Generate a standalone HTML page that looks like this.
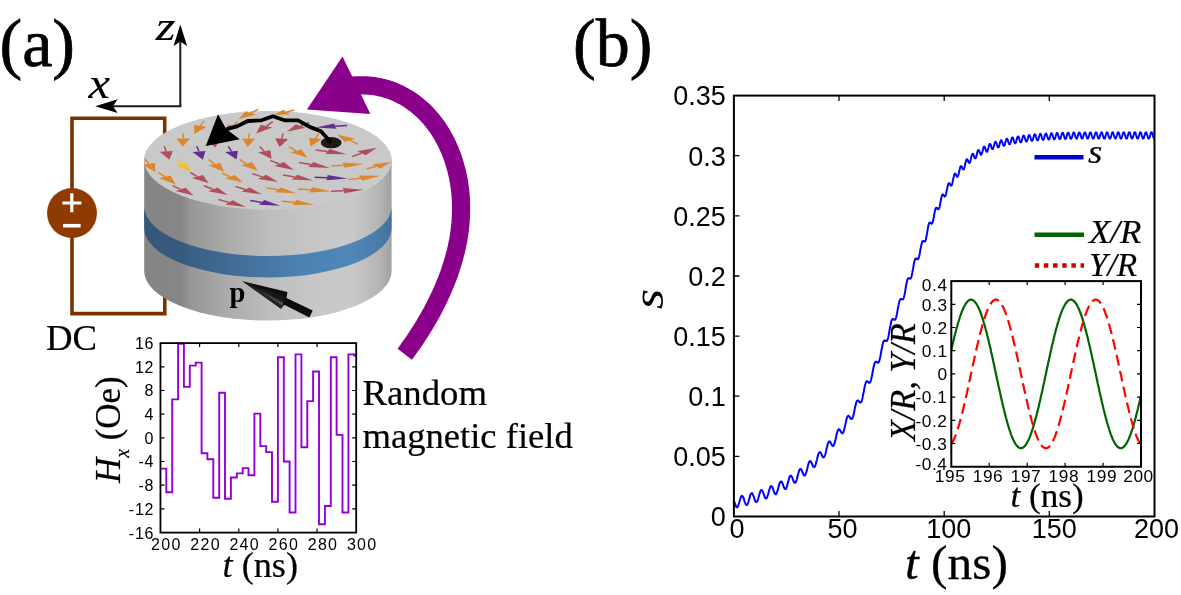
<!DOCTYPE html>
<html><head><meta charset="utf-8"><title>Figure</title>
<style>
html,body{margin:0;padding:0;background:#fff;}
body{width:1181px;height:595px;overflow:hidden;font-family:"Liberation Sans",sans-serif;}
svg{display:block;will-change:transform;}
text{white-space:pre;}
</style></head><body>
<svg width="1181" height="595" viewBox="0 0 1181 595">
<defs>
<linearGradient id="gside" x1="144" x2="392" y1="0" y2="0" gradientUnits="userSpaceOnUse">
<stop offset="0" stop-color="#858585"/>
<stop offset="0.15" stop-color="#868686"/>
<stop offset="0.19" stop-color="#979797"/>
<stop offset="0.35" stop-color="#adadad"/>
<stop offset="0.51" stop-color="#bdbdbd"/>
<stop offset="0.67" stop-color="#c6c6c6"/>
<stop offset="0.84" stop-color="#c9c9c9"/>
<stop offset="0.95" stop-color="#b4b4b4"/>
<stop offset="1" stop-color="#a0a0a0"/>
</linearGradient>
<linearGradient id="gband" x1="144" x2="392" y1="0" y2="0" gradientUnits="userSpaceOnUse">
<stop offset="0" stop-color="#34577a"/>
<stop offset="0.15" stop-color="#36597d"/>
<stop offset="0.19" stop-color="#3a6086"/>
<stop offset="0.35" stop-color="#406b94"/>
<stop offset="0.51" stop-color="#4778a6"/>
<stop offset="0.67" stop-color="#4d83b4"/>
<stop offset="0.84" stop-color="#4f86b8"/>
<stop offset="0.95" stop-color="#4a7baa"/>
<stop offset="1" stop-color="#446f99"/>
</linearGradient>
<linearGradient id="gcone" x1="0" x2="0" y1="-9" y2="9" gradientUnits="userSpaceOnUse">
<stop offset="0" stop-color="#0a0a0a"/>
<stop offset="0.55" stop-color="#1c1c1c"/>
<stop offset="0.8" stop-color="#3a3a3a"/>
<stop offset="1" stop-color="#101010"/>
</linearGradient>
</defs>
<rect width="1181" height="595" fill="#ffffff"/>
<text transform="translate(-0.5,66) scale(1.0,1)" font-family="Liberation Serif, serif" font-size="68" stroke="#000" stroke-width="0.75" >(a)</text>
<text transform="translate(573,66) scale(1.0,1)" font-family="Liberation Serif, serif" font-size="68" stroke="#000" stroke-width="0.75" >(b)</text>
<path d="M180.3,106.2 V40" stroke="#231815" stroke-width="2" fill="none"/>
<path d="M181.3,106.2 H112" stroke="#231815" stroke-width="2" fill="none"/>
<path d="M180.3,24.5 L187.1,46 L180.3,41.5 L173.6,46 Z" fill="#000"/>
<path d="M95.2,106.2 L117.6,99.3 L113,106.2 L117.6,113 Z" fill="#000"/>
<text transform="translate(155.8,40) scale(1.18,1)" font-family="Liberation Serif, serif" font-size="43" stroke="#000" stroke-width="0.09" font-style="italic">z</text>
<text transform="translate(88.6,97.5) scale(1.1,1)" font-family="Liberation Serif, serif" font-size="44" stroke="#000" stroke-width="0.09" font-style="italic">x</text>
<path d="M164.7,150 V118.2 H72 V313.6 H164.8 V290" stroke="#7a3200" stroke-width="3.6" fill="none" stroke-linejoin="miter"/>
<circle cx="72" cy="213" r="25" fill="#8f3a00"/>
<path d="M62.4,203 H81.4 M71.8,193.2 V212.3" stroke="#fff" stroke-width="3.2" fill="none"/>
<path d="M63,225.7 H80.6" stroke="#fff" stroke-width="3.6" fill="none"/>
<text transform="translate(46,350) scale(1.05,1)" font-family="Liberation Serif, serif" font-size="35" stroke="#000" stroke-width="0.21" >DC</text>
<polyline points="344.1,87.0 347.3,86.4 350.5,86.0 353.7,85.6 356.8,85.4 360.0,85.3 363.1,85.3 366.1,85.4 369.2,85.6 372.2,85.9 375.2,86.3 378.1,86.9 381.0,87.5 383.9,88.2 386.7,89.0 389.5,89.9 392.3,90.9 395.0,92.0 397.7,93.2 400.3,94.5 402.9,95.8 405.4,97.3 407.9,98.8 410.3,100.3 412.7,102.0 415.1,103.7 417.3,105.5 419.6,107.4 421.7,109.3 423.9,111.3 425.9,113.3 427.9,115.4 429.8,117.6 431.7,119.8 433.5,122.1 435.3,124.4 437.0,126.7 438.7,129.2 440.2,131.6 441.8,134.1 443.2,136.7 444.6,139.2 446.0,141.8 447.3,144.5 448.5,147.2 449.7,149.9 450.8,152.6 451.9,155.4 452.9,158.2 453.8,161.0 454.7,163.9 455.5,166.8 456.3,169.6 457.0,172.5 457.7,175.5 458.3,178.4 458.8,181.3 459.3,184.3 459.7,187.2 460.1,190.2 460.4,193.1 460.7,196.1 460.9,199.1 461.0,202.0 461.1,205.0 461.1,208.0 461.1,210.9 461.0,213.9 460.9,216.8 460.7,219.8 460.5,222.7 460.2,225.6 459.9,228.6 459.6,231.5 459.1,234.4 458.7,237.3 458.2,240.3 457.6,243.2 457.0,246.1 456.4,248.9 455.7,251.8 454.9,254.7 454.2,257.6 453.4,260.4 452.5,263.3 451.6,266.1 450.7,268.9 449.8,271.8 448.8,274.6 447.7,277.4 446.7,280.1 445.6,282.9 444.4,285.7 443.3,288.4 442.1,291.2 440.9,293.9 439.6,296.6 438.3,299.3 437.0,302.0 435.7,304.6 434.3,307.3 433.0,309.9 431.6,312.5 430.1,315.1 428.7,317.7 427.2,320.3 425.7,322.8 424.2,325.4 422.6,327.9 421.1,330.4 419.5,332.9 417.9,335.3 416.3,337.8 414.7,340.2 413.1,342.6 411.4,344.9 409.7,347.3 408.1,349.6 406.4,352.0 404.7,354.2" stroke="#8b008b" stroke-width="18.2" fill="none" stroke-linejoin="round"/>
<path d="M342.5,56.6 L306.9,109.4 L370.4,114 Z" fill="#8b008b"/>
<path d="M144.2,160.3 V271.1 A123.7,49.4 0 0 0 391.59999999999997,271.1 V160.3 A122.7,48.4 0 0 0 144.2,160.3 Z" fill="url(#gside)"/>
<path d="M144.2,206.6 V228.0 A123.7,49.4 0 0 0 391.59999999999997,228.0 V206.6 A123.7,49.4 0 0 1 144.2,206.6 Z" fill="url(#gband)"/>
<ellipse cx="267.9" cy="160.3" rx="123.7" ry="49.4" fill="#c9c9c9"/>
<clipPath id="cpa"><rect x="144.3" y="90" width="247.3" height="130"/></clipPath><g clip-path="url(#cpa)">
<path d="M258.5,109.1 L250.9,112.9" stroke="#dd872a" stroke-width="1.5" fill="none"/>
<path d="M238.4,119.2 L245.7,111.3 L256.0,114.6 Z" fill="#dd872a"/>
<path d="M294.4,110.0 L286.6,111.9" stroke="#dd872a" stroke-width="1.5" fill="none"/>
<path d="M274.0,115.1 L283.1,109.7 L290.2,114.2 Z" fill="#dd872a"/>
<path d="M204.0,121.0 L200.3,125.9" stroke="#dd872a" stroke-width="1.5" fill="none"/>
<path d="M194.3,134.0 L194.0,125.2 L206.6,126.7 Z" fill="#dd872a"/>
<path d="M237.2,121.6 L233.6,125.4" stroke="#dd872a" stroke-width="1.5" fill="none"/>
<path d="M227.7,131.7 L227.4,124.5 L239.8,126.4 Z" fill="#dd872a"/>
<path d="M272.8,121.6 L266.5,126.1" stroke="#b04e5c" stroke-width="1.5" fill="none"/>
<path d="M256.2,133.4 L260.7,124.8 L272.2,127.4 Z" fill="#b04e5c"/>
<path d="M309.2,122.5 L300.6,126.0" stroke="#b04e5c" stroke-width="1.5" fill="none"/>
<path d="M286.7,131.7 L295.9,124.2 L305.4,127.8 Z" fill="#b04e5c"/>
<path d="M347.1,125.4 L335.2,126.2" stroke="#662d91" stroke-width="1.5" fill="none"/>
<path d="M315.7,127.5 L334.1,123.6 L336.3,128.8 Z" fill="#662d91"/>
<path d="M357.8,144.1 L349.9,140.4" stroke="#dd872a" stroke-width="1.5" fill="none"/>
<path d="M337.1,134.4 L355.0,138.7 L344.9,142.1 Z" fill="#dd872a"/>
<path d="M183.3,133.4 L183.1,138.5" stroke="#dd872a" stroke-width="1.5" fill="none"/>
<path d="M182.7,146.7 L176.5,138.4 L189.7,138.5 Z" fill="#dd872a"/>
<path d="M249.3,133.4 L248.7,138.6" stroke="#dd872a" stroke-width="1.5" fill="none"/>
<path d="M247.6,147.1 L242.1,138.5 L255.2,138.7 Z" fill="#dd872a"/>
<path d="M283.1,133.4 L281.8,138.6" stroke="#b04e5c" stroke-width="1.5" fill="none"/>
<path d="M279.6,147.1 L275.2,138.3 L288.3,138.9 Z" fill="#b04e5c"/>
<path d="M318.7,133.4 L315.5,138.4" stroke="#dd872a" stroke-width="1.5" fill="none"/>
<path d="M310.4,146.5 L309.1,137.7 L321.9,139.0 Z" fill="#dd872a"/>
<path d="M164.3,146.3 L166.2,151.4" stroke="#b04e5c" stroke-width="1.5" fill="none"/>
<path d="M169.4,159.8 L159.7,151.8 L172.8,151.0 Z" fill="#b04e5c"/>
<path d="M196.7,146.3 L199.0,151.4" stroke="#662d91" stroke-width="1.5" fill="none"/>
<path d="M202.8,159.8 L192.5,151.9 L205.5,151.0 Z" fill="#662d91"/>
<path d="M212.5,135.5 L213.6,140.1" stroke="#b04e5c" stroke-width="1.5" fill="none"/>
<path d="M215.3,147.5 L207.0,140.3 L220.1,139.8 Z" fill="#b04e5c"/>
<path d="M228.3,146.3 L231.5,151.3" stroke="#662d91" stroke-width="1.5" fill="none"/>
<path d="M236.6,159.5 L225.1,152.0 L237.9,150.7 Z" fill="#662d91"/>
<path d="M259.7,146.5 L264.2,151.2" stroke="#b04e5c" stroke-width="1.5" fill="none"/>
<path d="M271.6,158.9 L258.1,152.2 L270.4,150.3 Z" fill="#b04e5c"/>
<path d="M289.0,146.7 L296.0,150.9" stroke="#dd872a" stroke-width="1.5" fill="none"/>
<path d="M307.4,157.7 L290.5,152.3 L301.5,149.4 Z" fill="#dd872a"/>
<path d="M315.5,150.0 L327.4,151.6" stroke="#b04e5c" stroke-width="1.5" fill="none"/>
<path d="M346.8,154.2 L325.3,154.1 L329.5,149.1 Z" fill="#b04e5c"/>
<path d="M351.9,156.6 L361.4,153.2" stroke="#b04e5c" stroke-width="1.5" fill="none"/>
<path d="M376.8,147.7 L365.8,155.2 L357.0,151.3 Z" fill="#b04e5c"/>
<path d="M144.7,158.9 L148.8,163.8" stroke="#dd872a" stroke-width="1.5" fill="none"/>
<path d="M155.4,171.9 L142.5,164.7 L155.0,163.0 Z" fill="#dd872a"/>
<path d="M176.7,158.9 L181.7,163.8" stroke="#f0c030" stroke-width="1.5" fill="none"/>
<path d="M189.8,171.9 L175.6,164.8 L187.8,162.9 Z" fill="#f0c030"/>
<path d="M208.5,159.5 L214.5,164.2" stroke="#dd872a" stroke-width="1.5" fill="none"/>
<path d="M224.2,171.9 L208.6,165.4 L220.4,163.0 Z" fill="#dd872a"/>
<path d="M239.6,159.5 L246.6,163.8" stroke="#dd872a" stroke-width="1.5" fill="none"/>
<path d="M257.9,170.7 L241.0,165.2 L252.1,162.3 Z" fill="#dd872a"/>
<path d="M270.1,160.4 L279.1,164.0" stroke="#b04e5c" stroke-width="1.5" fill="none"/>
<path d="M293.8,169.9 L274.4,165.9 L283.8,162.1 Z" fill="#b04e5c"/>
<path d="M299.1,162.4 L310.8,164.5" stroke="#b04e5c" stroke-width="1.5" fill="none"/>
<path d="M329.9,168.0 L308.1,166.9 L313.5,162.1 Z" fill="#b04e5c"/>
<path d="M331.1,166.0 L343.6,165.2" stroke="#dd872a" stroke-width="1.5" fill="none"/>
<path d="M364.1,164.0 L344.6,167.8 L342.6,162.6 Z" fill="#dd872a"/>
<path d="M366.7,169.0 L376.2,166.3" stroke="#dd872a" stroke-width="1.5" fill="none"/>
<path d="M391.6,161.9 L380.0,168.4 L372.3,164.2 Z" fill="#dd872a"/>
<path d="M158.4,172.3 L164.9,176.9" stroke="#dd872a" stroke-width="1.5" fill="none"/>
<path d="M175.6,184.4 L159.2,178.2 L170.7,175.6 Z" fill="#dd872a"/>
<path d="M190.4,172.5 L197.4,176.6" stroke="#b04e5c" stroke-width="1.5" fill="none"/>
<path d="M208.8,183.2 L192.0,178.1 L202.8,175.1 Z" fill="#b04e5c"/>
<path d="M221.8,173.1 L229.9,176.7" stroke="#dd872a" stroke-width="1.5" fill="none"/>
<path d="M243.1,182.6 L225.0,178.5 L234.8,175.0 Z" fill="#dd872a"/>
<path d="M252.4,173.7 L262.2,176.9" stroke="#b04e5c" stroke-width="1.5" fill="none"/>
<path d="M278.1,182.0 L258.0,178.9 L266.3,174.8 Z" fill="#b04e5c"/>
<path d="M283.1,174.9 L294.6,177.1" stroke="#b04e5c" stroke-width="1.5" fill="none"/>
<path d="M313.3,180.6 L291.8,179.4 L297.4,174.7 Z" fill="#b04e5c"/>
<path d="M314.5,177.3 L327.1,177.7" stroke="#662d91" stroke-width="1.5" fill="none"/>
<path d="M347.7,178.4 L326.6,180.3 L327.7,175.1 Z" fill="#662d91"/>
<path d="M348.3,179.6 L360.5,178.2" stroke="#dd872a" stroke-width="1.5" fill="none"/>
<path d="M380.3,175.8 L362.3,180.7 L358.6,175.6 Z" fill="#dd872a"/>
<path d="M172.6,185.6 L180.6,189.4" stroke="#b04e5c" stroke-width="1.5" fill="none"/>
<path d="M193.6,195.6 L175.5,191.1 L185.6,187.7 Z" fill="#b04e5c"/>
<path d="M204.0,185.8 L213.0,189.3" stroke="#b04e5c" stroke-width="1.5" fill="none"/>
<path d="M227.7,195.0 L208.4,191.2 L217.6,187.4 Z" fill="#b04e5c"/>
<path d="M235.4,186.5 L245.5,189.5" stroke="#b04e5c" stroke-width="1.5" fill="none"/>
<path d="M262.1,194.5 L241.6,191.6 L249.5,187.4 Z" fill="#b04e5c"/>
<path d="M266.5,187.7 L278.0,189.8" stroke="#dd872a" stroke-width="1.5" fill="none"/>
<path d="M296.7,193.3 L275.2,192.2 L280.8,187.4 Z" fill="#dd872a"/>
<path d="M298.2,188.9 L310.7,189.8" stroke="#dd872a" stroke-width="1.5" fill="none"/>
<path d="M331.1,191.3 L309.5,192.4 L311.9,187.2 Z" fill="#dd872a"/>
<path d="M331.1,191.3 L343.6,190.7" stroke="#b04e5c" stroke-width="1.5" fill="none"/>
<path d="M364.1,189.7 L344.4,193.3 L342.8,188.1 Z" fill="#b04e5c"/>
<path d="M218.5,199.5 L228.9,202.4" stroke="#b04e5c" stroke-width="1.5" fill="none"/>
<path d="M245.9,207.1 L225.1,204.6 L232.7,200.2 Z" fill="#b04e5c"/>
<path d="M250.2,200.4 L261.6,202.4" stroke="#662d91" stroke-width="1.5" fill="none"/>
<path d="M280.2,205.7 L258.9,204.8 L264.3,200.0 Z" fill="#662d91"/>
<path d="M282.3,201.2 L294.5,202.6" stroke="#dd872a" stroke-width="1.5" fill="none"/>
<path d="M314.3,204.8 L292.7,205.1 L296.2,200.0 Z" fill="#dd872a"/>
</g>
<ellipse cx="331.2" cy="142.7" rx="10.4" ry="5.6" fill="#231815"/>
<polyline points="331.2,142.7 321,131.2 310.2,127.1 298,120.3 284.4,120.3 272.9,116.3 261.4,120.3 247.8,121 237,126.4 226.2,129.1" stroke="#000" stroke-width="3.8" fill="none" stroke-linejoin="round"/>
<path d="M205.8,146.1 L218,114.2 L226.2,129.1 L239.7,139.3 Z" fill="#000"/>
<text x="229.5" y="301.7" font-family="Liberation Serif, serif" font-weight="bold" font-size="28.5">p</text>
<path d="M242.4,281.2 L287.5,291.9 L286.5,298 L312.7,310.5 L309.4,317.5 L284.3,304.8 L281,308.7 Z" fill="#0d0d0d"/>
<path d="M242.4,281.2 L283.8,301 L281,308.7 Z" fill="#252525"/>
<path d="M242.4,281.2 L285.5,296.5 L283.8,301 Z" fill="#161616"/>
<path d="M262,292 L283.2,303 L282.2,305.6 Z" fill="#5a5a5a" opacity="0.8"/>
<path d="M160.4,468.6 H166.3 V492.3 H172.2 V399.4 H178.1 V343.7 H183.9 V386.9 H189.8 V365.6 H195.7 V362.6 H201.6 V453.2 H207.4 V459.2 H213.3 V497.7 H219.2 V392.8 H225.0 V498.8 H230.9 V477.5 H236.8 V473.4 H242.7 V468.1 H248.5 V475.2 H254.4 V413.6 H260.3 V446.1 H266.2 V452.1 H272.0 V501.8 H277.9 V357.3 H283.8 V461.5 H289.6 V512.5 H295.5 V354.4 H301.4 V447.3 H307.3 V401.1 H313.1 V371.5 H319.0 V524.3 H324.9 V506.0 H330.8 V357.3 H336.6 V434.9 H342.5 V512.5 H348.4 V354.4 H354.2 V355.5 H356.2" stroke="#9400d3" stroke-width="1.9" fill="none" stroke-linejoin="miter"/>
<rect x="160.45" y="343.1" width="195.75" height="189.5" fill="none" stroke="#000" stroke-width="1.8"/>
<path d="M199.6,343.1 v4 M199.6,532.6 v-4 M238.8,343.1 v4 M238.8,532.6 v-4 M277.9,343.1 v4 M277.9,532.6 v-4 M317.0,343.1 v4 M317.0,532.6 v-4 M160.45,366.8 h4 M356.2,366.8 h-4 M160.45,390.5 h4 M356.2,390.5 h-4 M160.45,414.2 h4 M356.2,414.2 h-4 M160.45,437.9 h4 M356.2,437.9 h-4 M160.45,461.5 h4 M356.2,461.5 h-4 M160.45,485.2 h4 M356.2,485.2 h-4 M160.45,508.9 h4 M356.2,508.9 h-4 " stroke="#000" stroke-width="1.2" fill="none"/>
<text x="154.3" y="349.0" font-family="Liberation Sans, sans-serif" font-size="16" text-anchor="end" letter-spacing="0.8">16</text>
<text x="154.3" y="372.7" font-family="Liberation Sans, sans-serif" font-size="16" text-anchor="end" letter-spacing="0.8">12</text>
<text x="154.3" y="396.4" font-family="Liberation Sans, sans-serif" font-size="16" text-anchor="end" letter-spacing="0.8">8</text>
<text x="154.3" y="420.1" font-family="Liberation Sans, sans-serif" font-size="16" text-anchor="end" letter-spacing="0.8">4</text>
<text x="154.3" y="443.8" font-family="Liberation Sans, sans-serif" font-size="16" text-anchor="end" letter-spacing="0.8">0</text>
<text x="154.3" y="467.4" font-family="Liberation Sans, sans-serif" font-size="16" text-anchor="end" letter-spacing="0.8">-4</text>
<text x="154.3" y="491.1" font-family="Liberation Sans, sans-serif" font-size="16" text-anchor="end" letter-spacing="0.8">-8</text>
<text x="154.3" y="514.8" font-family="Liberation Sans, sans-serif" font-size="16" text-anchor="end" letter-spacing="0.8">-12</text>
<text x="154.3" y="538.5" font-family="Liberation Sans, sans-serif" font-size="16" text-anchor="end" letter-spacing="0.8">-16</text>
<text x="151.1" y="549.8" font-family="Liberation Sans, sans-serif" font-size="16" letter-spacing="1.3">200</text>
<text x="190.3" y="549.8" font-family="Liberation Sans, sans-serif" font-size="16" letter-spacing="1.3">220</text>
<text x="229.4" y="549.8" font-family="Liberation Sans, sans-serif" font-size="16" letter-spacing="1.3">240</text>
<text x="268.6" y="549.8" font-family="Liberation Sans, sans-serif" font-size="16" letter-spacing="1.3">260</text>
<text x="307.7" y="549.8" font-family="Liberation Sans, sans-serif" font-size="16" letter-spacing="1.3">280</text>
<text x="346.9" y="549.8" font-family="Liberation Sans, sans-serif" font-size="16" letter-spacing="1.3">300</text>
<text transform="translate(222.5,577) scale(1.035,1)" font-family="Liberation Serif, serif" font-size="35" stroke="#000" stroke-width="0.21" ><tspan font-style="italic">t</tspan> (ns)</text>
<text transform="translate(119.9,483) rotate(-90) scale(0.985,1)" font-family="Liberation Serif, serif" font-size="35.5" stroke="#000" stroke-width="0.21" ><tspan font-style="italic">H</tspan><tspan font-style="italic" font-size="20" dy="9.5">x</tspan><tspan dy="-9.5"> (Oe)</tspan></text>
<text transform="translate(362.5,405) scale(1.035,1)" font-family="Liberation Serif, serif" font-size="35.5" stroke="#000" stroke-width="0.21" >Random</text>
<text transform="translate(362.5,448.2) scale(1.031,1)" font-family="Liberation Serif, serif" font-size="35.5" stroke="#000" stroke-width="0.21" >magnetic field</text>
<polyline points="733.9,500.4 734.0,500.7 734.1,501.1 734.2,501.4 734.3,501.7 734.4,502.0 734.5,502.4 734.6,502.7 734.7,503.0 734.8,503.4 735.0,503.7 735.1,504.0 735.2,504.3 735.3,504.6 735.4,504.9 735.5,505.2 735.6,505.5 735.7,505.7 735.8,506.0 735.9,506.2 736.0,506.4 736.1,506.6 736.2,506.8 736.3,506.9 736.4,507.0 736.5,507.1 736.6,507.2 736.7,507.3 736.8,507.3 736.9,507.3 737.1,507.3 737.2,507.3 737.3,507.2 737.4,507.1 737.5,507.0 737.6,506.9 737.7,506.7 737.8,506.5 737.9,506.3 738.0,506.1 738.1,505.9 738.2,505.6 738.3,505.3 738.4,505.0 738.5,504.7 738.6,504.4 738.7,504.1 738.8,503.7 738.9,503.4 739.1,503.0 739.2,502.7 739.3,502.3 739.4,501.9 739.5,501.5 739.6,501.2 739.7,500.8 739.8,500.4 739.9,500.0 740.0,499.7 740.1,499.3 740.2,499.0 740.3,498.7 740.4,498.3 740.5,498.0 740.6,497.8 740.7,497.5 740.8,497.2 740.9,497.0 741.1,496.8 741.2,496.6 741.3,496.4 741.4,496.3 741.5,496.1 741.6,496.0 741.7,495.9 741.8,495.9 741.9,495.9 742.0,495.8 742.1,495.9 742.2,495.9 742.3,496.0 742.4,496.0 742.5,496.1 742.6,496.3 742.7,496.4 742.8,496.6 742.9,496.8 743.0,497.0 743.2,497.2 743.3,497.4 743.4,497.7 743.5,498.0 743.6,498.3 743.7,498.5 743.8,498.9 743.9,499.2 744.0,499.5 744.1,499.8 744.2,500.1 744.3,500.5 744.4,500.8 744.5,501.1 744.6,501.4 744.7,501.7 744.8,502.1 744.9,502.4 745.0,502.6 745.2,502.9 745.3,503.2 745.4,503.4 745.5,503.7 745.6,503.9 745.7,504.1 745.8,504.3 745.9,504.5 746.0,504.6 746.1,504.7 746.2,504.9 746.3,504.9 746.4,505.0 746.5,505.0 746.6,505.0 746.7,505.0 746.8,505.0 746.9,504.9 747.0,504.8 747.1,504.7 747.3,504.6 747.4,504.4 747.5,504.3 747.6,504.1 747.7,503.9 747.8,503.6 747.9,503.4 748.0,503.1 748.1,502.8 748.2,502.5 748.3,502.2 748.4,501.8 748.5,501.5 748.6,501.1 748.7,500.8 748.8,500.4 748.9,500.0 749.0,499.6 749.1,499.2 749.3,498.9 749.4,498.5 749.5,498.1 749.6,497.7 749.7,497.4 749.8,497.0 749.9,496.6 750.0,496.3 750.1,496.0 750.2,495.7 750.3,495.4 750.4,495.1 750.5,494.8 750.6,494.5 750.7,494.3 750.8,494.1 750.9,493.9 751.0,493.7 751.1,493.6 751.2,493.5 751.4,493.4 751.5,493.3 751.6,493.2 751.7,493.2 751.8,493.2 751.9,493.2 752.0,493.3 752.1,493.3 752.2,493.4 752.3,493.5 752.4,493.7 752.5,493.8 752.6,494.0 752.7,494.2 752.8,494.4 752.9,494.6 753.0,494.9 753.1,495.1 753.2,495.4 753.4,495.7 753.5,496.0 753.6,496.3 753.7,496.6 753.8,496.9 753.9,497.2 754.0,497.5 754.1,497.8 754.2,498.1 754.3,498.5 754.4,498.8 754.5,499.1 754.6,499.4 754.7,499.7 754.8,499.9 754.9,500.2 755.0,500.5 755.1,500.7 755.2,500.9 755.4,501.1 755.5,501.3 755.6,501.5 755.7,501.6 755.8,501.8 755.9,501.9 756.0,502.0 756.1,502.0 756.2,502.1 756.3,502.1 756.4,502.1 756.5,502.0 756.6,502.0 756.7,501.9 756.8,501.8 756.9,501.7 757.0,501.5 757.1,501.3 757.2,501.1 757.3,500.9 757.5,500.7 757.6,500.4 757.7,500.2 757.8,499.9 757.9,499.6 758.0,499.2 758.1,498.9 758.2,498.6 758.3,498.2 758.4,497.8 758.5,497.5 758.6,497.1 758.7,496.7 758.8,496.3 758.9,495.9 759.0,495.5 759.1,495.2 759.2,494.8 759.3,494.4 759.5,494.0 759.6,493.7 759.7,493.3 759.8,493.0 759.9,492.6 760.0,492.3 760.1,492.0 760.2,491.7 760.3,491.5 760.4,491.2 760.5,491.0 760.6,490.8 760.7,490.6 760.8,490.5 760.9,490.3 761.0,490.2 761.1,490.1 761.2,490.1 761.3,490.0 761.4,490.0 761.6,490.0 761.7,490.0 761.8,490.1 761.9,490.1 762.0,490.2 762.1,490.3 762.2,490.5 762.3,490.6 762.4,490.8 762.5,491.0 762.6,491.2 762.7,491.5 762.8,491.7 762.9,492.0 763.0,492.2 763.1,492.5 763.2,492.8 763.3,493.1 763.4,493.4 763.6,493.7 763.7,494.0 763.8,494.3 763.9,494.6 764.0,494.9 764.1,495.2 764.2,495.5 764.3,495.8 764.4,496.1 764.5,496.4 764.6,496.7 764.7,496.9 764.8,497.2 764.9,497.4 765.0,497.6 765.1,497.8 765.2,497.9 765.3,498.1 765.4,498.2 765.6,498.3 765.7,498.4 765.8,498.5 765.9,498.5 766.0,498.5 766.1,498.5 766.2,498.5 766.3,498.4 766.4,498.4 766.5,498.3 766.6,498.1 766.7,498.0 766.8,497.8 766.9,497.6 767.0,497.4 767.1,497.2 767.2,496.9 767.3,496.6 767.4,496.3 767.5,496.0 767.7,495.7 767.8,495.4 767.9,495.0 768.0,494.7 768.1,494.3 768.2,493.9 768.3,493.5 768.4,493.1 768.5,492.8 768.6,492.4 768.7,492.0 768.8,491.6 768.9,491.2 769.0,490.8 769.1,490.4 769.2,490.0 769.3,489.7 769.4,489.3 769.5,489.0 769.7,488.7 769.8,488.4 769.9,488.1 770.0,487.8 770.1,487.5 770.2,487.3 770.3,487.1 770.4,486.9 770.5,486.7 770.6,486.5 770.7,486.4 770.8,486.3 770.9,486.2 771.0,486.1 771.1,486.1 771.2,486.1 771.3,486.1 771.4,486.1 771.5,486.2 771.6,486.3 771.8,486.4 771.9,486.5 772.0,486.6 772.1,486.8 772.2,487.0 772.3,487.2 772.4,487.4 772.5,487.6 772.6,487.9 772.7,488.1 772.8,488.4 772.9,488.7 773.0,488.9 773.1,489.2 773.2,489.5 773.3,489.8 773.4,490.1 773.5,490.4 773.6,490.7 773.8,491.0 773.9,491.3 774.0,491.6 774.1,491.9 774.2,492.1 774.3,492.4 774.4,492.7 774.5,492.9 774.6,493.1 774.7,493.3 774.8,493.5 774.9,493.7 775.0,493.8 775.1,493.9 775.2,494.0 775.3,494.1 775.4,494.2 775.5,494.2 775.6,494.2 775.7,494.2 775.9,494.2 776.0,494.1 776.1,494.0 776.2,493.9 776.3,493.8 776.4,493.7 776.5,493.5 776.6,493.3 776.7,493.1 776.8,492.8 776.9,492.6 777.0,492.3 777.1,492.0 777.2,491.7 777.3,491.4 777.4,491.0 777.5,490.7 777.6,490.3 777.7,489.9 777.9,489.6 778.0,489.2 778.1,488.8 778.2,488.4 778.3,488.0 778.4,487.6 778.5,487.2 778.6,486.8 778.7,486.4 778.8,486.0 778.9,485.6 779.0,485.2 779.1,484.9 779.2,484.5 779.3,484.2 779.4,483.9 779.5,483.6 779.6,483.3 779.7,483.0 779.9,482.7 780.0,482.5 780.1,482.3 780.2,482.1 780.3,481.9 780.4,481.8 780.5,481.7 780.6,481.6 780.7,481.5 780.8,481.4 780.9,481.4 781.0,481.4 781.1,481.4 781.2,481.5 781.3,481.5 781.4,481.6 781.5,481.7 781.6,481.8 781.7,482.0 781.8,482.2 782.0,482.3 782.1,482.5 782.2,482.8 782.3,483.0 782.4,483.2 782.5,483.5 782.6,483.7 782.7,484.0 782.8,484.3 782.9,484.6 783.0,484.9 783.1,485.2 783.2,485.4 783.3,485.7 783.4,486.0 783.5,486.3 783.6,486.6 783.7,486.8 783.8,487.1 784.0,487.4 784.1,487.6 784.2,487.8 784.3,488.0 784.4,488.2 784.5,488.4 784.6,488.5 784.7,488.7 784.8,488.8 784.9,488.9 785.0,489.0 785.1,489.0 785.2,489.1 785.3,489.1 785.4,489.1 785.5,489.0 785.6,488.9 785.7,488.9 785.8,488.7 785.9,488.6 786.1,488.5 786.2,488.3 786.3,488.1 786.4,487.8 786.5,487.6 786.6,487.3 786.7,487.1 786.8,486.7 786.9,486.4 787.0,486.1 787.1,485.7 787.2,485.4 787.3,485.0 787.4,484.6 787.5,484.2 787.6,483.8 787.7,483.4 787.8,483.0 787.9,482.6 788.1,482.2 788.2,481.8 788.3,481.4 788.4,481.0 788.5,480.6 788.6,480.2 788.7,479.8 788.8,479.4 788.9,479.0 789.0,478.7 789.1,478.4 789.2,478.0 789.3,477.7 789.4,477.4 789.5,477.2 789.6,476.9 789.7,476.7 789.8,476.5 789.9,476.3 790.1,476.2 790.2,476.0 790.3,475.9 790.4,475.8 790.5,475.7 790.6,475.7 790.7,475.7 790.8,475.7 790.9,475.7 791.0,475.8 791.1,475.8 791.2,475.9 791.3,476.0 791.4,476.2 791.5,476.3 791.6,476.5 791.7,476.7 791.8,476.9 791.9,477.1 792.0,477.3 792.2,477.5 792.3,477.8 792.4,478.1 792.5,478.3 792.6,478.6 792.7,478.9 792.8,479.1 792.9,479.4 793.0,479.7 793.1,480.0 793.2,480.2 793.3,480.5 793.4,480.7 793.5,481.0 793.6,481.2 793.7,481.4 793.8,481.7 793.9,481.9 794.0,482.0 794.2,482.2 794.3,482.3 794.4,482.5 794.5,482.6 794.6,482.7 794.7,482.7 794.8,482.8 794.9,482.8 795.0,482.8 795.1,482.7 795.2,482.7 795.3,482.6 795.4,482.5 795.5,482.4 795.6,482.3 795.7,482.1 795.8,481.9 795.9,481.7 796.0,481.4 796.1,481.2 796.3,480.9 796.4,480.6 796.5,480.3 796.6,480.0 796.7,479.6 796.8,479.3 796.9,478.9 797.0,478.5 797.1,478.1 797.2,477.7 797.3,477.3 797.4,476.9 797.5,476.5 797.6,476.0 797.7,475.6 797.8,475.2 797.9,474.8 798.0,474.4 798.1,474.0 798.3,473.6 798.4,473.2 798.5,472.8 798.6,472.4 798.7,472.0 798.8,471.7 798.9,471.4 799.0,471.1 799.1,470.8 799.2,470.5 799.3,470.2 799.4,470.0 799.5,469.8 799.6,469.6 799.7,469.4 799.8,469.3 799.9,469.2 800.0,469.1 800.1,469.0 800.2,469.0 800.4,468.9 800.5,468.9 800.6,468.9 800.7,469.0 800.8,469.0 800.9,469.1 801.0,469.2 801.1,469.4 801.2,469.5 801.3,469.7 801.4,469.8 801.5,470.0 801.6,470.2 801.7,470.4 801.8,470.7 801.9,470.9 802.0,471.2 802.1,471.4 802.2,471.7 802.4,471.9 802.5,472.2 802.6,472.5 802.7,472.7 802.8,473.0 802.9,473.2 803.0,473.5 803.1,473.7 803.2,474.0 803.3,474.2 803.4,474.4 803.5,474.6 803.6,474.8 803.7,474.9 803.8,475.1 803.9,475.2 804.0,475.3 804.1,475.4 804.2,475.5 804.4,475.5 804.5,475.5 804.6,475.5 804.7,475.5 804.8,475.5 804.9,475.4 805.0,475.3 805.1,475.2 805.2,475.1 805.3,474.9 805.4,474.7 805.5,474.5 805.6,474.3 805.7,474.0 805.8,473.7 805.9,473.4 806.0,473.1 806.1,472.8 806.2,472.5 806.3,472.1 806.5,471.7 806.6,471.3 806.7,470.9 806.8,470.5 806.9,470.1 807.0,469.7 807.1,469.3 807.2,468.8 807.3,468.4 807.4,468.0 807.5,467.5 807.6,467.1 807.7,466.7 807.8,466.3 807.9,465.9 808.0,465.5 808.1,465.1 808.2,464.7 808.3,464.3 808.5,464.0 808.6,463.6 808.7,463.3 808.8,463.0 808.9,462.7 809.0,462.5 809.1,462.3 809.2,462.0 809.3,461.8 809.4,461.7 809.5,461.5 809.6,461.4 809.7,461.3 809.8,461.2 809.9,461.2 810.0,461.1 810.1,461.1 810.2,461.1 810.3,461.2 810.4,461.2 810.6,461.3 810.7,461.4 810.8,461.5 810.9,461.7 811.0,461.8 811.1,462.0 811.2,462.2 811.3,462.4 811.4,462.6 811.5,462.8 811.6,463.0 811.7,463.2 811.8,463.5 811.9,463.7 812.0,464.0 812.1,464.2 812.2,464.5 812.3,464.7 812.4,465.0 812.6,465.2 812.7,465.4 812.8,465.6 812.9,465.9 813.0,466.1 813.1,466.2 813.2,466.4 813.3,466.6 813.4,466.7 813.5,466.8 813.6,466.9 813.7,467.0 813.8,467.1 813.9,467.1 814.0,467.1 814.1,467.1 814.2,467.1 814.3,467.1 814.4,467.0 814.6,466.9 814.7,466.8 814.8,466.6 814.9,466.4 815.0,466.3 815.1,466.0 815.2,465.8 815.3,465.5 815.4,465.3 815.5,465.0 815.6,464.7 815.7,464.3 815.8,464.0 815.9,463.6 816.0,463.2 816.1,462.8 816.2,462.4 816.3,462.0 816.4,461.6 816.5,461.1 816.7,460.7 816.8,460.3 816.9,459.8 817.0,459.4 817.1,458.9 817.2,458.5 817.3,458.0 817.4,457.6 817.5,457.2 817.6,456.8 817.7,456.4 817.8,456.0 817.9,455.6 818.0,455.2 818.1,454.9 818.2,454.5 818.3,454.2 818.4,453.9 818.5,453.6 818.7,453.4 818.8,453.2 818.9,452.9 819.0,452.8 819.1,452.6 819.2,452.4 819.3,452.3 819.4,452.2 819.5,452.2 819.6,452.1 819.7,452.1 819.8,452.1 819.9,452.1 820.0,452.1 820.1,452.2 820.2,452.3 820.3,452.4 820.4,452.5 820.5,452.6 820.6,452.8 820.8,452.9 820.9,453.1 821.0,453.3 821.1,453.5 821.2,453.7 821.3,453.9 821.4,454.1 821.5,454.4 821.6,454.6 821.7,454.8 821.8,455.1 821.9,455.3 822.0,455.5 822.1,455.7 822.2,455.9 822.3,456.1 822.4,456.3 822.5,456.5 822.6,456.7 822.8,456.8 822.9,457.0 823.0,457.1 823.1,457.2 823.2,457.3 823.3,457.3 823.4,457.4 823.5,457.4 823.6,457.4 823.7,457.4 823.8,457.3 823.9,457.3 824.0,457.2 824.1,457.1 824.2,456.9 824.3,456.7 824.4,456.6 824.5,456.3 824.6,456.1 824.7,455.9 824.9,455.6 825.0,455.3 825.1,455.0 825.2,454.6 825.3,454.3 825.4,453.9 825.5,453.5 825.6,453.1 825.7,452.7 825.8,452.3 825.9,451.8 826.0,451.4 826.1,450.9 826.2,450.5 826.3,450.0 826.4,449.5 826.5,449.1 826.6,448.6 826.7,448.2 826.9,447.7 827.0,447.3 827.1,446.8 827.2,446.4 827.3,446.0 827.4,445.6 827.5,445.2 827.6,444.8 827.7,444.4 827.8,444.1 827.9,443.7 828.0,443.4 828.1,443.1 828.2,442.9 828.3,442.6 828.4,442.4 828.5,442.2 828.6,442.0 828.7,441.9 828.9,441.7 829.0,441.6 829.1,441.5 829.2,441.5 829.3,441.4 829.4,441.4 829.5,441.4 829.6,441.4 829.7,441.5 829.8,441.6 829.9,441.6 830.0,441.7 830.1,441.9 830.2,442.0 830.3,442.1 830.4,442.3 830.5,442.5 830.6,442.7 830.7,442.9 830.8,443.0 831.0,443.3 831.1,443.5 831.2,443.7 831.3,443.9 831.4,444.1 831.5,444.3 831.6,444.5 831.7,444.7 831.8,444.9 831.9,445.0 832.0,445.2 832.1,445.4 832.2,445.5 832.3,445.6 832.4,445.7 832.5,445.8 832.6,445.9 832.7,445.9 832.8,446.0 833.0,446.0 833.1,446.0 833.2,445.9 833.3,445.9 833.4,445.8 833.5,445.7 833.6,445.6 833.7,445.4 833.8,445.2 833.9,445.0 834.0,444.8 834.1,444.6 834.2,444.3 834.3,444.0 834.4,443.7 834.5,443.4 834.6,443.0 834.7,442.6 834.8,442.3 834.9,441.9 835.1,441.4 835.2,441.0 835.3,440.6 835.4,440.1 835.5,439.7 835.6,439.2 835.7,438.7 835.8,438.2 835.9,437.8 836.0,437.3 836.1,436.8 836.2,436.3 836.3,435.9 836.4,435.4 836.5,434.9 836.6,434.5 836.7,434.1 836.8,433.6 836.9,433.2 837.1,432.8 837.2,432.5 837.3,432.1 837.4,431.7 837.5,431.4 837.6,431.1 837.7,430.8 837.8,430.6 837.9,430.3 838.0,430.1 838.1,429.9 838.2,429.8 838.3,429.6 838.4,429.5 838.5,429.4 838.6,429.3 838.7,429.3 838.8,429.2 838.9,429.2 839.0,429.2 839.2,429.3 839.3,429.3 839.4,429.4 839.5,429.5 839.6,429.6 839.7,429.7 839.8,429.8 839.9,430.0 840.0,430.2 840.1,430.3 840.2,430.5 840.3,430.7 840.4,430.9 840.5,431.1 840.6,431.3 840.7,431.4 840.8,431.6 840.9,431.8 841.0,432.0 841.2,432.2 841.3,432.3 841.4,432.5 841.5,432.6 841.6,432.8 841.7,432.9 841.8,433.0 841.9,433.1 842.0,433.1 842.1,433.2 842.2,433.2 842.3,433.2 842.4,433.2 842.5,433.2 842.6,433.1 842.7,433.0 842.8,432.9 842.9,432.8 843.0,432.6 843.2,432.5 843.3,432.3 843.4,432.0 843.5,431.8 843.6,431.5 843.7,431.2 843.8,430.9 843.9,430.6 844.0,430.2 844.1,429.8 844.2,429.4 844.3,429.0 844.4,428.6 844.5,428.2 844.6,427.7 844.7,427.2 844.8,426.8 844.9,426.3 845.0,425.8 845.1,425.3 845.3,424.8 845.4,424.3 845.5,423.8 845.6,423.4 845.7,422.9 845.8,422.4 845.9,421.9 846.0,421.5 846.1,421.0 846.2,420.6 846.3,420.1 846.4,419.7 846.5,419.3 846.6,418.9 846.7,418.6 846.8,418.2 846.9,417.9 847.0,417.6 847.1,417.3 847.3,417.1 847.4,416.8 847.5,416.6 847.6,416.5 847.7,416.3 847.8,416.1 847.9,416.0 848.0,415.9 848.1,415.9 848.2,415.8 848.3,415.8 848.4,415.8 848.5,415.8 848.6,415.9 848.7,415.9 848.8,416.0 848.9,416.1 849.0,416.2 849.1,416.3 849.2,416.4 849.4,416.6 849.5,416.7 849.6,416.9 849.7,417.0 849.8,417.2 849.9,417.4 850.0,417.5 850.1,417.7 850.2,417.9 850.3,418.0 850.4,418.2 850.5,418.3 850.6,418.5 850.7,418.6 850.8,418.7 850.9,418.8 851.0,418.9 851.1,419.0 851.2,419.0 851.4,419.1 851.5,419.1 851.6,419.1 851.7,419.1 851.8,419.0 851.9,418.9 852.0,418.8 852.1,418.7 852.2,418.6 852.3,418.4 852.4,418.2 852.5,418.0 852.6,417.8 852.7,417.5 852.8,417.2 852.9,416.9 853.0,416.6 853.1,416.2 853.2,415.8 853.4,415.4 853.5,415.0 853.6,414.6 853.7,414.1 853.8,413.7 853.9,413.2 854.0,412.7 854.1,412.2 854.2,411.7 854.3,411.2 854.4,410.7 854.5,410.2 854.6,409.7 854.7,409.2 854.8,408.6 854.9,408.1 855.0,407.6 855.1,407.1 855.2,406.6 855.3,406.2 855.5,405.7 855.6,405.2 855.7,404.8 855.8,404.4 855.9,404.0 856.0,403.6 856.1,403.2 856.2,402.9 856.3,402.5 856.4,402.2 856.5,402.0 856.6,401.7 856.7,401.5 856.8,401.3 856.9,401.1 857.0,400.9 857.1,400.8 857.2,400.7 857.3,400.6 857.5,400.5 857.6,400.4 857.7,400.4 857.8,400.4 857.9,400.4 858.0,400.5 858.1,400.5 858.2,400.6 858.3,400.6 858.4,400.7 858.5,400.8 858.6,400.9 858.7,401.1 858.8,401.2 858.9,401.3 859.0,401.4 859.1,401.6 859.2,401.7 859.3,401.8 859.4,401.9 859.6,402.1 859.7,402.2 859.8,402.3 859.9,402.3 860.0,402.4 860.1,402.5 860.2,402.5 860.3,402.5 860.4,402.6 860.5,402.5 860.6,402.5 860.7,402.5 860.8,402.4 860.9,402.3 861.0,402.2 861.1,402.0 861.2,401.8 861.3,401.6 861.4,401.4 861.6,401.2 861.7,400.9 861.8,400.6 861.9,400.3 862.0,399.9 862.1,399.6 862.2,399.2 862.3,398.8 862.4,398.3 862.5,397.9 862.6,397.4 862.7,396.9 862.8,396.4 862.9,395.9 863.0,395.4 863.1,394.8 863.2,394.3 863.3,393.7 863.4,393.2 863.5,392.6 863.7,392.0 863.8,391.5 863.9,390.9 864.0,390.3 864.1,389.8 864.2,389.2 864.3,388.7 864.4,388.1 864.5,387.6 864.6,387.1 864.7,386.6 864.8,386.1 864.9,385.7 865.0,385.2 865.1,384.8 865.2,384.4 865.3,384.0 865.4,383.7 865.5,383.3 865.7,383.0 865.8,382.7 865.9,382.5 866.0,382.2 866.1,382.0 866.2,381.9 866.3,381.7 866.4,381.6 866.5,381.5 866.6,381.4 866.7,381.3 866.8,381.3 866.9,381.2 867.0,381.2 867.1,381.3 867.2,381.3 867.3,381.3 867.4,381.4 867.5,381.5 867.7,381.5 867.8,381.6 867.9,381.7 868.0,381.8 868.1,381.9 868.2,382.1 868.3,382.2 868.4,382.3 868.5,382.4 868.6,382.5 868.7,382.5 868.8,382.6 868.9,382.7 869.0,382.7 869.1,382.8 869.2,382.8 869.3,382.8 869.4,382.8 869.5,382.8 869.6,382.7 869.8,382.6 869.9,382.5 870.0,382.4 870.1,382.3 870.2,382.1 870.3,381.9 870.4,381.7 870.5,381.4 870.6,381.2 870.7,380.9 870.8,380.6 870.9,380.2 871.0,379.8 871.1,379.5 871.2,379.0 871.3,378.6 871.4,378.2 871.5,377.7 871.6,377.2 871.8,376.7 871.9,376.2 872.0,375.6 872.1,375.1 872.2,374.5 872.3,374.0 872.4,373.4 872.5,372.8 872.6,372.3 872.7,371.7 872.8,371.1 872.9,370.6 873.0,370.0 873.1,369.5 873.2,368.9 873.3,368.4 873.4,367.9 873.5,367.4 873.6,366.9 873.7,366.4 873.9,365.9 874.0,365.5 874.1,365.1 874.2,364.7 874.3,364.3 874.4,364.0 874.5,363.7 874.6,363.4 874.7,363.1 874.8,362.8 874.9,362.6 875.0,362.4 875.1,362.3 875.2,362.1 875.3,362.0 875.4,361.9 875.5,361.8 875.6,361.7 875.7,361.7 875.9,361.7 876.0,361.7 876.1,361.7 876.2,361.7 876.3,361.8 876.4,361.8 876.5,361.9 876.6,361.9 876.7,362.0 876.8,362.1 876.9,362.2 877.0,362.3 877.1,362.3 877.2,362.4 877.3,362.5 877.4,362.6 877.5,362.6 877.6,362.7 877.7,362.7 877.9,362.7 878.0,362.7 878.1,362.7 878.2,362.6 878.3,362.6 878.4,362.5 878.5,362.4 878.6,362.3 878.7,362.1 878.8,362.0 878.9,361.8 879.0,361.5 879.1,361.3 879.2,361.0 879.3,360.7 879.4,360.4 879.5,360.0 879.6,359.6 879.7,359.2 879.8,358.8 880.0,358.4 880.1,357.9 880.2,357.4 880.3,356.9 880.4,356.4 880.5,355.8 880.6,355.3 880.7,354.7 880.8,354.1 880.9,353.5 881.0,352.9 881.1,352.3 881.2,351.7 881.3,351.1 881.4,350.5 881.5,349.9 881.6,349.3 881.7,348.7 881.8,348.2 882.0,347.6 882.1,347.0 882.2,346.5 882.3,346.0 882.4,345.5 882.5,345.0 882.6,344.5 882.7,344.1 882.8,343.7 882.9,343.3 883.0,342.9 883.1,342.6 883.2,342.3 883.3,342.0 883.4,341.7 883.5,341.5 883.6,341.2 883.7,341.1 883.8,340.9 883.9,340.8 884.1,340.6 884.2,340.6 884.3,340.5 884.4,340.4 884.5,340.4 884.6,340.4 884.7,340.4 884.8,340.4 884.9,340.4 885.0,340.5 885.1,340.5 885.2,340.6 885.3,340.7 885.4,340.7 885.5,340.8 885.6,340.8 885.7,340.9 885.8,341.0 885.9,341.0 886.1,341.0 886.2,341.1 886.3,341.1 886.4,341.1 886.5,341.1 886.6,341.0 886.7,341.0 886.8,340.9 886.9,340.8 887.0,340.7 887.1,340.5 887.2,340.3 887.3,340.1 887.4,339.9 887.5,339.7 887.6,339.4 887.7,339.1 887.8,338.7 887.9,338.4 888.0,338.0 888.2,337.6 888.3,337.2 888.4,336.7 888.5,336.2 888.6,335.7 888.7,335.2 888.8,334.6 888.9,334.1 889.0,333.5 889.1,332.9 889.2,332.3 889.3,331.7 889.4,331.1 889.5,330.5 889.6,329.9 889.7,329.3 889.8,328.7 889.9,328.1 890.0,327.5 890.2,326.9 890.3,326.3 890.4,325.7 890.5,325.2 890.6,324.6 890.7,324.1 890.8,323.6 890.9,323.1 891.0,322.7 891.1,322.3 891.2,321.9 891.3,321.5 891.4,321.1 891.5,320.8 891.6,320.5 891.7,320.2 891.8,320.0 891.9,319.8 892.0,319.6 892.2,319.4 892.3,319.3 892.4,319.2 892.5,319.1 892.6,319.0 892.7,319.0 892.8,318.9 892.9,318.9 893.0,319.0 893.1,319.0 893.2,319.0 893.3,319.1 893.4,319.2 893.5,319.2 893.6,319.3 893.7,319.4 893.8,319.5 893.9,319.5 894.0,319.6 894.1,319.7 894.3,319.7 894.4,319.8 894.5,319.8 894.6,319.8 894.7,319.8 894.8,319.8 894.9,319.7 895.0,319.7 895.1,319.6 895.2,319.5 895.3,319.4 895.4,319.2 895.5,319.0 895.6,318.8 895.7,318.6 895.8,318.3 895.9,318.0 896.0,317.7 896.1,317.3 896.3,316.9 896.4,316.5 896.5,316.1 896.6,315.6 896.7,315.2 896.8,314.7 896.9,314.1 897.0,313.6 897.1,313.1 897.2,312.5 897.3,311.9 897.4,311.3 897.5,310.7 897.6,310.1 897.7,309.5 897.8,308.9 897.9,308.3 898.0,307.7 898.1,307.1 898.2,306.5 898.4,306.0 898.5,305.4 898.6,304.9 898.7,304.3 898.8,303.8 898.9,303.3 899.0,302.9 899.1,302.4 899.2,302.0 899.3,301.6 899.4,301.3 899.5,300.9 899.6,300.6 899.7,300.3 899.8,300.1 899.9,299.8 900.0,299.6 900.1,299.5 900.2,299.3 900.4,299.2 900.5,299.1 900.6,299.0 900.7,299.0 900.8,298.9 900.9,298.9 901.0,298.9 901.1,298.9 901.2,299.0 901.3,299.0 901.4,299.1 901.5,299.1 901.6,299.2 901.7,299.3 901.8,299.3 901.9,299.4 902.0,299.4 902.1,299.5 902.2,299.5 902.4,299.5 902.5,299.5 902.6,299.5 902.7,299.5 902.8,299.4 902.9,299.3 903.0,299.2 903.1,299.1 903.2,299.0 903.3,298.8 903.4,298.6 903.5,298.3 903.6,298.1 903.7,297.8 903.8,297.5 903.9,297.1 904.0,296.7 904.1,296.3 904.2,295.9 904.3,295.4 904.5,294.9 904.6,294.4 904.7,293.9 904.8,293.3 904.9,292.8 905.0,292.2 905.1,291.6 905.2,291.0 905.3,290.3 905.4,289.7 905.5,289.1 905.6,288.4 905.7,287.8 905.8,287.2 905.9,286.6 906.0,286.0 906.1,285.4 906.2,284.8 906.3,284.2 906.5,283.6 906.6,283.1 906.7,282.6 906.8,282.1 906.9,281.7 907.0,281.2 907.1,280.8 907.2,280.4 907.3,280.1 907.4,279.8 907.5,279.5 907.6,279.2 907.7,279.0 907.8,278.8 907.9,278.6 908.0,278.5 908.1,278.4 908.2,278.3 908.3,278.2 908.4,278.2 908.6,278.1 908.7,278.1 908.8,278.2 908.9,278.2 909.0,278.2 909.1,278.3 909.2,278.3 909.3,278.4 909.4,278.4 909.5,278.5 909.6,278.6 909.7,278.6 909.8,278.6 909.9,278.7 910.0,278.7 910.1,278.7 910.2,278.7 910.3,278.6 910.4,278.6 910.6,278.5 910.7,278.4 910.8,278.2 910.9,278.1 911.0,277.9 911.1,277.6 911.2,277.4 911.3,277.1 911.4,276.8 911.5,276.4 911.6,276.1 911.7,275.6 911.8,275.2 911.9,274.7 912.0,274.3 912.1,273.7 912.2,273.2 912.3,272.7 912.4,272.1 912.5,271.5 912.7,270.9 912.8,270.3 912.9,269.7 913.0,269.0 913.1,268.4 913.2,267.8 913.3,267.2 913.4,266.5 913.5,265.9 913.6,265.3 913.7,264.7 913.8,264.2 913.9,263.6 914.0,263.1 914.1,262.6 914.2,262.1 914.3,261.6 914.4,261.2 914.5,260.8 914.7,260.4 914.8,260.1 914.9,259.8 915.0,259.5 915.1,259.3 915.2,259.1 915.3,258.9 915.4,258.7 915.5,258.6 915.6,258.5 915.7,258.5 915.8,258.4 915.9,258.4 916.0,258.4 916.1,258.4 916.2,258.5 916.3,258.5 916.4,258.6 916.5,258.7 916.7,258.8 916.8,258.9 916.9,258.9 917.0,259.0 917.1,259.1 917.2,259.2 917.3,259.2 917.4,259.3 917.5,259.3 917.6,259.3 917.7,259.3 917.8,259.3 917.9,259.2 918.0,259.1 918.1,259.0 918.2,258.9 918.3,258.7 918.4,258.5 918.5,258.3 918.6,258.0 918.8,257.7 918.9,257.4 919.0,257.0 919.1,256.6 919.2,256.2 919.3,255.7 919.4,255.3 919.5,254.8 919.6,254.3 919.7,253.7 919.8,253.2 919.9,252.6 920.0,252.0 920.1,251.4 920.2,250.8 920.3,250.2 920.4,249.6 920.5,249.0 920.6,248.4 920.8,247.8 920.9,247.2 921.0,246.7 921.1,246.1 921.2,245.6 921.3,245.1 921.4,244.6 921.5,244.2 921.6,243.8 921.7,243.4 921.8,243.0 921.9,242.7 922.0,242.3 922.1,242.1 922.2,241.8 922.3,241.6 922.4,241.4 922.5,241.3 922.6,241.2 922.7,241.1 922.9,241.0 923.0,241.0 923.1,241.0 923.2,241.0 923.3,241.0 923.4,241.0 923.5,241.1 923.6,241.1 923.7,241.2 923.8,241.3 923.9,241.3 924.0,241.4 924.1,241.5 924.2,241.5 924.3,241.6 924.4,241.6 924.5,241.6 924.6,241.6 924.7,241.5 924.9,241.5 925.0,241.4 925.1,241.3 925.2,241.1 925.3,240.9 925.4,240.7 925.5,240.5 925.6,240.2 925.7,239.9 925.8,239.6 925.9,239.2 926.0,238.8 926.1,238.3 926.2,237.8 926.3,237.3 926.4,236.8 926.5,236.3 926.6,235.7 926.7,235.1 926.9,234.5 927.0,233.9 927.1,233.2 927.2,232.6 927.3,231.9 927.4,231.3 927.5,230.7 927.6,230.0 927.7,229.4 927.8,228.8 927.9,228.2 928.0,227.6 928.1,227.1 928.2,226.5 928.3,226.0 928.4,225.5 928.5,225.1 928.6,224.7 928.7,224.3 928.8,224.0 929.0,223.7 929.1,223.4 929.2,223.2 929.3,223.0 929.4,222.8 929.5,222.7 929.6,222.6 929.7,222.5 929.8,222.5 929.9,222.5 930.0,222.5 930.1,222.5 930.2,222.6 930.3,222.7 930.4,222.8 930.5,222.9 930.6,223.0 930.7,223.1 930.8,223.2 931.0,223.3 931.1,223.4 931.2,223.5 931.3,223.6 931.4,223.6 931.5,223.6 931.6,223.7 931.7,223.7 931.8,223.6 931.9,223.6 932.0,223.5 932.1,223.3 932.2,223.2 932.3,223.0 932.4,222.8 932.5,222.5 932.6,222.2 932.7,221.9 932.8,221.5 932.9,221.1 933.1,220.7 933.2,220.2 933.3,219.7 933.4,219.2 933.5,218.7 933.6,218.2 933.7,217.6 933.8,217.0 933.9,216.5 934.0,215.9 934.1,215.3 934.2,214.7 934.3,214.1 934.4,213.6 934.5,213.0 934.6,212.5 934.7,211.9 934.8,211.4 934.9,210.9 935.1,210.5 935.2,210.1 935.3,209.7 935.4,209.3 935.5,209.0 935.6,208.7 935.7,208.5 935.8,208.2 935.9,208.1 936.0,207.9 936.1,207.8 936.2,207.7 936.3,207.7 936.4,207.7 936.5,207.7 936.6,207.7 936.7,207.8 936.8,207.9 936.9,208.0 937.0,208.1 937.2,208.2 937.3,208.3 937.4,208.5 937.5,208.6 937.6,208.7 937.7,208.8 937.8,209.0 937.9,209.0 938.0,209.1 938.1,209.2 938.2,209.2 938.3,209.2 938.4,209.2 938.5,209.1 938.6,209.0 938.7,208.9 938.8,208.8 938.9,208.6 939.0,208.3 939.2,208.1 939.3,207.8 939.4,207.4 939.5,207.1 939.6,206.7 939.7,206.2 939.8,205.8 939.9,205.3 940.0,204.8 940.1,204.3 940.2,203.7 940.3,203.2 940.4,202.6 940.5,202.0 940.6,201.5 940.7,200.9 940.8,200.3 940.9,199.8 941.0,199.2 941.2,198.7 941.3,198.2 941.4,197.7 941.5,197.3 941.6,196.8 941.7,196.4 941.8,196.1 941.9,195.8 942.0,195.5 942.1,195.2 942.2,195.0 942.3,194.8 942.4,194.7 942.5,194.6 942.6,194.5 942.7,194.5 942.8,194.5 942.9,194.5 943.0,194.5 943.1,194.6 943.3,194.7 943.4,194.9 943.5,195.0 943.6,195.1 943.7,195.3 943.8,195.5 943.9,195.6 944.0,195.8 944.1,195.9 944.2,196.1 944.3,196.2 944.4,196.3 944.5,196.4 944.6,196.4 944.7,196.5 944.8,196.5 944.9,196.4 945.0,196.4 945.1,196.3 945.3,196.1 945.4,196.0 945.5,195.8 945.6,195.5 945.7,195.2 945.8,194.9 945.9,194.5 946.0,194.2 946.1,193.7 946.2,193.3 946.3,192.8 946.4,192.3 946.5,191.8 946.6,191.3 946.7,190.7 946.8,190.2 946.9,189.7 947.0,189.1 947.1,188.6 947.2,188.0 947.4,187.5 947.5,187.0 947.6,186.5 947.7,186.1 947.8,185.6 947.9,185.2 948.0,184.8 948.1,184.5 948.2,184.2 948.3,183.9 948.4,183.7 948.5,183.5 948.6,183.4 948.7,183.2 948.8,183.2 948.9,183.1 949.0,183.1 949.1,183.2 949.2,183.2 949.4,183.3 949.5,183.4 949.6,183.5 949.7,183.7 949.8,183.9 949.9,184.0 950.0,184.2 950.1,184.4 950.2,184.6 950.3,184.8 950.4,185.0 950.5,185.1 950.6,185.3 950.7,185.4 950.8,185.5 950.9,185.5 951.0,185.6 951.1,185.6 951.2,185.6 951.4,185.5 951.5,185.4 951.6,185.2 951.7,185.1 951.8,184.8 951.9,184.6 952.0,184.3 952.1,184.0 952.2,183.6 952.3,183.2 952.4,182.8 952.5,182.4 952.6,181.9 952.7,181.4 952.8,180.9 952.9,180.4 953.0,179.9 953.1,179.4 953.2,178.8 953.3,178.3 953.5,177.8 953.6,177.3 953.7,176.9 953.8,176.4 953.9,176.0 954.0,175.6 954.1,175.2 954.2,174.9 954.3,174.6 954.4,174.3 954.5,174.1 954.6,173.9 954.7,173.8 954.8,173.7 954.9,173.6 955.0,173.6 955.1,173.6 955.2,173.7 955.3,173.8 955.5,173.9 955.6,174.0 955.7,174.2 955.8,174.4 955.9,174.6 956.0,174.8 956.1,175.0 956.2,175.3 956.3,175.5 956.4,175.7 956.5,175.9 956.6,176.1 956.7,176.3 956.8,176.5 956.9,176.6 957.0,176.7 957.1,176.8 957.2,176.9 957.3,176.9 957.4,176.9 957.6,176.8 957.7,176.7 957.8,176.6 957.9,176.4 958.0,176.2 958.1,175.9 958.2,175.6 958.3,175.3 958.4,174.9 958.5,174.5 958.6,174.1 958.7,173.7 958.8,173.2 958.9,172.7 959.0,172.3 959.1,171.8 959.2,171.3 959.3,170.8 959.4,170.3 959.6,169.8 959.7,169.3 959.8,168.9 959.9,168.5 960.0,168.1 960.1,167.7 960.2,167.4 960.3,167.1 960.4,166.8 960.5,166.6 960.6,166.4 960.7,166.3 960.8,166.2 960.9,166.1 961.0,166.1 961.1,166.1 961.2,166.1 961.3,166.2 961.4,166.3 961.5,166.5 961.7,166.7 961.8,166.9 961.9,167.1 962.0,167.3 962.1,167.5 962.2,167.8 962.3,168.0 962.4,168.2 962.5,168.5 962.6,168.7 962.7,168.9 962.8,169.1 962.9,169.2 963.0,169.3 963.1,169.4 963.2,169.5 963.3,169.5 963.4,169.5 963.5,169.4 963.7,169.4 963.8,169.2 963.9,169.0 964.0,168.8 964.1,168.6 964.2,168.3 964.3,168.0 964.4,167.6 964.5,167.2 964.6,166.8 964.7,166.4 964.8,165.9 964.9,165.5 965.0,165.0 965.1,164.5 965.2,164.0 965.3,163.6 965.4,163.1 965.5,162.6 965.7,162.2 965.8,161.8 965.9,161.4 966.0,161.0 966.1,160.6 966.2,160.3 966.3,160.1 966.4,159.8 966.5,159.6 966.6,159.5 966.7,159.4 966.8,159.3 966.9,159.3 967.0,159.3 967.1,159.3 967.2,159.4 967.3,159.5 967.4,159.7 967.5,159.8 967.6,160.0 967.8,160.2 967.9,160.5 968.0,160.7 968.1,161.0 968.2,161.2 968.3,161.5 968.4,161.7 968.5,162.0 968.6,162.2 968.7,162.4 968.8,162.6 968.9,162.7 969.0,162.8 969.1,162.9 969.2,163.0 969.3,163.0 969.4,163.0 969.5,162.9 969.6,162.8 969.8,162.6 969.9,162.5 970.0,162.2 970.1,162.0 970.2,161.7 970.3,161.3 970.4,161.0 970.5,160.6 970.6,160.2 970.7,159.8 970.8,159.3 970.9,158.9 971.0,158.4 971.1,158.0 971.2,157.5 971.3,157.1 971.4,156.6 971.5,156.2 971.6,155.8 971.7,155.5 971.9,155.1 972.0,154.8 972.1,154.5 972.2,154.3 972.3,154.1 972.4,154.0 972.5,153.9 972.6,153.8 972.7,153.8 972.8,153.8 972.9,153.8 973.0,153.9 973.1,154.1 973.2,154.2 973.3,154.4 973.4,154.6 973.5,154.9 973.6,155.2 973.7,155.4 973.9,155.7 974.0,156.0 974.1,156.3 974.2,156.6 974.3,156.9 974.4,157.2 974.5,157.4 974.6,157.6 974.7,157.9 974.8,158.0 974.9,158.2 975.0,158.3 975.1,158.3 975.2,158.4 975.3,158.4 975.4,158.3 975.5,158.2 975.6,158.1 975.7,157.9 975.9,157.7 976.0,157.4 976.1,157.2 976.2,156.8 976.3,156.5 976.4,156.1 976.5,155.7 976.6,155.3 976.7,154.9 976.8,154.5 976.9,154.0 977.0,153.6 977.1,153.1 977.2,152.7 977.3,152.3 977.4,151.9 977.5,151.6 977.6,151.3 977.7,151.0 977.8,150.7 978.0,150.5 978.1,150.3 978.2,150.1 978.3,150.0 978.4,149.9 978.5,149.9 978.6,149.9 978.7,150.0 978.8,150.1 978.9,150.2 979.0,150.4 979.1,150.6 979.2,150.8 979.3,151.1 979.4,151.3 979.5,151.6 979.6,151.9 979.7,152.2 979.8,152.5 980.0,152.8 980.1,153.1 980.2,153.4 980.3,153.7 980.4,153.9 980.5,154.1 980.6,154.3 980.7,154.4 980.8,154.5 980.9,154.6 981.0,154.7 981.1,154.7 981.2,154.6 981.3,154.5 981.4,154.4 981.5,154.2 981.6,154.0 981.7,153.8 981.8,153.5 981.9,153.2 982.1,152.8 982.2,152.4 982.3,152.1 982.4,151.7 982.5,151.2 982.6,150.8 982.7,150.4 982.8,150.0 982.9,149.5 983.0,149.1 983.1,148.8 983.2,148.4 983.3,148.0 983.4,147.7 983.5,147.5 983.6,147.2 983.7,147.0 983.8,146.8 983.9,146.7 984.1,146.6 984.2,146.6 984.3,146.6 984.4,146.6 984.5,146.7 984.6,146.9 984.7,147.0 984.8,147.2 984.9,147.4 985.0,147.7 985.1,148.0 985.2,148.3 985.3,148.6 985.4,148.9 985.5,149.2 985.6,149.5 985.7,149.8 985.8,150.1 985.9,150.4 986.0,150.7 986.2,150.9 986.3,151.2 986.4,151.3 986.5,151.5 986.6,151.6 986.7,151.7 986.8,151.7 986.9,151.7 987.0,151.7 987.1,151.6 987.2,151.4 987.3,151.3 987.4,151.1 987.5,150.8 987.6,150.5 987.7,150.2 987.8,149.9 987.9,149.5 988.0,149.1 988.2,148.7 988.3,148.3 988.4,147.9 988.5,147.5 988.6,147.0 988.7,146.6 988.8,146.3 988.9,145.9 989.0,145.5 989.1,145.2 989.2,144.9 989.3,144.7 989.4,144.5 989.5,144.3 989.6,144.1 989.7,144.0 989.8,144.0 989.9,144.0 990.0,144.0 990.2,144.1 990.3,144.2 990.4,144.3 990.5,144.5 990.6,144.7 990.7,145.0 990.8,145.3 990.9,145.5 991.0,145.8 991.1,146.2 991.2,146.5 991.3,146.8 991.4,147.1 991.5,147.4 991.6,147.7 991.7,148.0 991.8,148.2 991.9,148.5 992.0,148.7 992.1,148.8 992.3,149.0 992.4,149.0 992.5,149.1 992.6,149.1 992.7,149.1 992.8,149.0 992.9,148.9 993.0,148.7 993.1,148.5 993.2,148.2 993.3,148.0 993.4,147.7 993.5,147.3 993.6,147.0 993.7,146.6 993.8,146.2 993.9,145.8 994.0,145.4 994.1,145.0 994.3,144.6 994.4,144.2 994.5,143.8 994.6,143.5 994.7,143.1 994.8,142.8 994.9,142.6 995.0,142.3 995.1,142.1 995.2,141.9 995.3,141.8 995.4,141.7 995.5,141.7 995.6,141.7 995.7,141.8 995.8,141.8 995.9,142.0 996.0,142.1 996.1,142.4 996.2,142.6 996.4,142.9 996.5,143.1 996.6,143.5 996.7,143.8 996.8,144.1 996.9,144.5 997.0,144.8 997.1,145.1 997.2,145.5 997.3,145.8 997.4,146.1 997.5,146.4 997.6,146.6 997.7,146.8 997.8,147.0 997.9,147.2 998.0,147.3 998.1,147.3 998.2,147.4 998.4,147.3 998.5,147.3 998.6,147.2 998.7,147.0 998.8,146.8 998.9,146.6 999.0,146.3 999.1,146.1 999.2,145.7 999.3,145.4 999.4,145.0 999.5,144.6 999.6,144.3 999.7,143.9 999.8,143.5 999.9,143.1 1000.0,142.7 1000.1,142.3 1000.2,142.0 1000.4,141.6 1000.5,141.3 1000.6,141.1 1000.7,140.8 1000.8,140.6 1000.9,140.5 1001.0,140.3 1001.1,140.3 1001.2,140.2 1001.3,140.2 1001.4,140.3 1001.5,140.4 1001.6,140.5 1001.7,140.7 1001.8,140.9 1001.9,141.1 1002.0,141.4 1002.1,141.7 1002.2,142.0 1002.3,142.3 1002.5,142.7 1002.6,143.0 1002.7,143.3 1002.8,143.7 1002.9,144.0 1003.0,144.3 1003.1,144.6 1003.2,144.9 1003.3,145.1 1003.4,145.3 1003.5,145.5 1003.6,145.6 1003.7,145.7 1003.8,145.8 1003.9,145.8 1004.0,145.7 1004.1,145.7 1004.2,145.5 1004.3,145.4 1004.5,145.2 1004.6,144.9 1004.7,144.7 1004.8,144.4 1004.9,144.0 1005.0,143.7 1005.1,143.3 1005.2,142.9 1005.3,142.5 1005.4,142.1 1005.5,141.7 1005.6,141.3 1005.7,141.0 1005.8,140.6 1005.9,140.3 1006.0,139.9 1006.1,139.6 1006.2,139.4 1006.3,139.2 1006.4,139.0 1006.6,138.8 1006.7,138.7 1006.8,138.7 1006.9,138.7 1007.0,138.7 1007.1,138.8 1007.2,138.9 1007.3,139.0 1007.4,139.2 1007.5,139.4 1007.6,139.7 1007.7,140.0 1007.8,140.3 1007.9,140.6 1008.0,140.9 1008.1,141.3 1008.2,141.6 1008.3,141.9 1008.4,142.3 1008.6,142.6 1008.7,142.9 1008.8,143.2 1008.9,143.5 1009.0,143.7 1009.1,143.9 1009.2,144.1 1009.3,144.2 1009.4,144.3 1009.5,144.3 1009.6,144.3 1009.7,144.3 1009.8,144.2 1009.9,144.0 1010.0,143.9 1010.1,143.7 1010.2,143.4 1010.3,143.1 1010.4,142.8 1010.5,142.5 1010.7,142.1 1010.8,141.8 1010.9,141.4 1011.0,141.0 1011.1,140.6 1011.2,140.2 1011.3,139.8 1011.4,139.4 1011.5,139.1 1011.6,138.8 1011.7,138.5 1011.8,138.2 1011.9,138.0 1012.0,137.8 1012.1,137.6 1012.2,137.5 1012.3,137.4 1012.4,137.4 1012.5,137.4 1012.7,137.5 1012.8,137.6 1012.9,137.7 1013.0,137.9 1013.1,138.1 1013.2,138.3 1013.3,138.6 1013.4,138.9 1013.5,139.2 1013.6,139.6 1013.7,139.9 1013.8,140.3 1013.9,140.6 1014.0,141.0 1014.1,141.3 1014.2,141.6 1014.3,141.9 1014.4,142.2 1014.5,142.5 1014.7,142.7 1014.8,142.9 1014.9,143.0 1015.0,143.1 1015.1,143.2 1015.2,143.2 1015.3,143.2 1015.4,143.1 1015.5,143.0 1015.6,142.9 1015.7,142.7 1015.8,142.5 1015.9,142.2 1016.0,141.9 1016.1,141.6 1016.2,141.3 1016.3,140.9 1016.4,140.5 1016.5,140.1 1016.6,139.7 1016.8,139.4 1016.9,139.0 1017.0,138.6 1017.1,138.2 1017.2,137.9 1017.3,137.6 1017.4,137.3 1017.5,137.1 1017.6,136.9 1017.7,136.7 1017.8,136.6 1017.9,136.5 1018.0,136.4 1018.1,136.4 1018.2,136.5 1018.3,136.6 1018.4,136.7 1018.5,136.9 1018.6,137.1 1018.8,137.3 1018.9,137.6 1019.0,137.9 1019.1,138.2 1019.2,138.5 1019.3,138.8 1019.4,139.2 1019.5,139.6 1019.6,139.9 1019.7,140.2 1019.8,140.6 1019.9,140.9 1020.0,141.2 1020.1,141.4 1020.2,141.7 1020.3,141.9 1020.4,142.0 1020.5,142.2 1020.6,142.2 1020.7,142.3 1020.9,142.3 1021.0,142.2 1021.1,142.1 1021.2,142.0 1021.3,141.8 1021.4,141.6 1021.5,141.4 1021.6,141.1 1021.7,140.8 1021.8,140.4 1021.9,140.1 1022.0,139.7 1022.1,139.3 1022.2,138.9 1022.3,138.6 1022.4,138.2 1022.5,137.8 1022.6,137.5 1022.7,137.1 1022.9,136.8 1023.0,136.5 1023.1,136.3 1023.2,136.1 1023.3,135.9 1023.4,135.7 1023.5,135.6 1023.6,135.6 1023.7,135.6 1023.8,135.6 1023.9,135.7 1024.0,135.8 1024.1,136.0 1024.2,136.2 1024.3,136.4 1024.4,136.7 1024.5,137.0 1024.6,137.3 1024.7,137.6 1024.9,138.0 1025.0,138.3 1025.1,138.7 1025.2,139.0 1025.3,139.4 1025.4,139.7 1025.5,140.0 1025.6,140.3 1025.7,140.6 1025.8,140.8 1025.9,141.1 1026.0,141.2 1026.1,141.4 1026.2,141.5 1026.3,141.5 1026.4,141.5 1026.5,141.5 1026.6,141.4 1026.7,141.3 1026.8,141.1 1027.0,140.9 1027.1,140.7 1027.2,140.4 1027.3,140.1 1027.4,139.8 1027.5,139.4 1027.6,139.1 1027.7,138.7 1027.8,138.3 1027.9,137.9 1028.0,137.5 1028.1,137.2 1028.2,136.8 1028.3,136.5 1028.4,136.2 1028.5,135.9 1028.6,135.6 1028.7,135.4 1028.8,135.2 1029.0,135.1 1029.1,135.0 1029.2,134.9 1029.3,134.9 1029.4,134.9 1029.5,135.0 1029.6,135.1 1029.7,135.3 1029.8,135.5 1029.9,135.7 1030.0,135.9 1030.1,136.2 1030.2,136.5 1030.3,136.9 1030.4,137.2 1030.5,137.6 1030.6,137.9 1030.7,138.3 1030.8,138.6 1030.9,139.0 1031.1,139.3 1031.2,139.6 1031.3,139.9 1031.4,140.1 1031.5,140.4 1031.6,140.5 1031.7,140.7 1031.8,140.8 1031.9,140.8 1032.0,140.9 1032.1,140.8 1032.2,140.8 1032.3,140.6 1032.4,140.5 1032.5,140.3 1032.6,140.1 1032.7,139.8 1032.8,139.5 1032.9,139.2 1033.1,138.8 1033.2,138.5 1033.3,138.1 1033.4,137.7 1033.5,137.3 1033.6,137.0 1033.7,136.6 1033.8,136.2 1033.9,135.9 1034.0,135.6 1034.1,135.3 1034.2,135.0 1034.3,134.8 1034.4,134.6 1034.5,134.5 1034.6,134.4 1034.7,134.3 1034.8,134.3 1034.9,134.3 1035.0,134.4 1035.2,134.5 1035.3,134.7 1035.4,134.8 1035.5,135.1 1035.6,135.3 1035.7,135.6 1035.8,135.9 1035.9,136.3 1036.0,136.6 1036.1,137.0 1036.2,137.3 1036.3,137.7 1036.4,138.1 1036.5,138.4 1036.6,138.7 1036.7,139.0 1036.8,139.3 1036.9,139.6 1037.0,139.8 1037.2,140.0 1037.3,140.1 1037.4,140.2 1037.5,140.3 1037.6,140.3 1037.7,140.3 1037.8,140.2 1037.9,140.1 1038.0,140.0 1038.1,139.8 1038.2,139.6 1038.3,139.3 1038.4,139.0 1038.5,138.7 1038.6,138.3 1038.7,138.0 1038.8,137.6 1038.9,137.2 1039.0,136.9 1039.2,136.5 1039.3,136.1 1039.4,135.8 1039.5,135.4 1039.6,135.1 1039.7,134.8 1039.8,134.6 1039.9,134.3 1040.0,134.2 1040.1,134.0 1040.2,133.9 1040.3,133.9 1040.4,133.8 1040.5,133.9 1040.6,133.9 1040.7,134.1 1040.8,134.2 1040.9,134.4 1041.0,134.6 1041.1,134.9 1041.3,135.2 1041.4,135.5 1041.5,135.8 1041.6,136.2 1041.7,136.5 1041.8,136.9 1041.9,137.3 1042.0,137.6 1042.1,138.0 1042.2,138.3 1042.3,138.6 1042.4,138.9 1042.5,139.2 1042.6,139.4 1042.7,139.6 1042.8,139.7 1042.9,139.8 1043.0,139.9 1043.1,139.9 1043.3,139.9 1043.4,139.8 1043.5,139.7 1043.6,139.6 1043.7,139.4 1043.8,139.2 1043.9,138.9 1044.0,138.6 1044.1,138.3 1044.2,138.0 1044.3,137.6 1044.4,137.2 1044.5,136.9 1044.6,136.5 1044.7,136.1 1044.8,135.7 1044.9,135.4 1045.0,135.0 1045.1,134.7 1045.2,134.5 1045.4,134.2 1045.5,134.0 1045.6,133.8 1045.7,133.7 1045.8,133.6 1045.9,133.5 1046.0,133.5 1046.1,133.5 1046.2,133.6 1046.3,133.7 1046.4,133.9 1046.5,134.1 1046.6,134.3 1046.7,134.6 1046.8,134.8 1046.9,135.2 1047.0,135.5 1047.1,135.8 1047.2,136.2 1047.4,136.6 1047.5,136.9 1047.6,137.3 1047.7,137.6 1047.8,138.0 1047.9,138.3 1048.0,138.6 1048.1,138.8 1048.2,139.1 1048.3,139.2 1048.4,139.4 1048.5,139.5 1048.6,139.6 1048.7,139.6 1048.8,139.6 1048.9,139.5 1049.0,139.4 1049.1,139.2 1049.2,139.1 1049.3,138.8 1049.5,138.6 1049.6,138.3 1049.7,138.0 1049.8,137.6 1049.9,137.3 1050.0,136.9 1050.1,136.5 1050.2,136.2 1050.3,135.8 1050.4,135.4 1050.5,135.1 1050.6,134.7 1050.7,134.4 1050.8,134.1 1050.9,133.9 1051.0,133.7 1051.1,133.5 1051.2,133.3 1051.3,133.3 1051.5,133.2 1051.6,133.2 1051.7,133.2 1051.8,133.3 1051.9,133.4 1052.0,133.6 1052.1,133.8 1052.2,134.0 1052.3,134.3 1052.4,134.6 1052.5,134.9 1052.6,135.2 1052.7,135.6 1052.8,136.0 1052.9,136.3 1053.0,136.7 1053.1,137.0 1053.2,137.4 1053.3,137.7 1053.5,138.0 1053.6,138.3 1053.7,138.6 1053.8,138.8 1053.9,139.0 1054.0,139.1 1054.1,139.2 1054.2,139.3 1054.3,139.3 1054.4,139.3 1054.5,139.2 1054.6,139.1 1054.7,139.0 1054.8,138.8 1054.9,138.6 1055.0,138.3 1055.1,138.0 1055.2,137.7 1055.3,137.4 1055.4,137.0 1055.6,136.6 1055.7,136.3 1055.8,135.9 1055.9,135.5 1056.0,135.1 1056.1,134.8 1056.2,134.5 1056.3,134.2 1056.4,133.9 1056.5,133.6 1056.6,133.4 1056.7,133.2 1056.8,133.1 1056.9,133.0 1057.0,133.0 1057.1,133.0 1057.2,133.0 1057.3,133.1 1057.4,133.2 1057.6,133.4 1057.7,133.6 1057.8,133.8 1057.9,134.1 1058.0,134.4 1058.1,134.7 1058.2,135.1 1058.3,135.4 1058.4,135.8 1058.5,136.1 1058.6,136.5 1058.7,136.9 1058.8,137.2 1058.9,137.6 1059.0,137.9 1059.1,138.1 1059.2,138.4 1059.3,138.6 1059.4,138.8 1059.5,139.0 1059.7,139.1 1059.8,139.1 1059.9,139.1 1060.0,139.1 1060.1,139.0 1060.2,138.9 1060.3,138.8 1060.4,138.6 1060.5,138.3 1060.6,138.1 1060.7,137.8 1060.8,137.5 1060.9,137.1 1061.0,136.8 1061.1,136.4 1061.2,136.0 1061.3,135.7 1061.4,135.3 1061.5,134.9 1061.7,134.6 1061.8,134.2 1061.9,133.9 1062.0,133.7 1062.1,133.4 1062.2,133.2 1062.3,133.0 1062.4,132.9 1062.5,132.8 1062.6,132.8 1062.7,132.8 1062.8,132.8 1062.9,132.9 1063.0,133.0 1063.1,133.2 1063.2,133.4 1063.3,133.7 1063.4,133.9 1063.5,134.2 1063.7,134.6 1063.8,134.9 1063.9,135.3 1064.0,135.6 1064.1,136.0 1064.2,136.4 1064.3,136.7 1064.4,137.1 1064.5,137.4 1064.6,137.7 1064.7,138.0 1064.8,138.2 1064.9,138.5 1065.0,138.6 1065.1,138.8 1065.2,138.9 1065.3,138.9 1065.4,139.0 1065.5,138.9 1065.6,138.8 1065.8,138.7 1065.9,138.6 1066.0,138.4 1066.1,138.1 1066.2,137.9 1066.3,137.6 1066.4,137.2 1066.5,136.9 1066.6,136.5 1066.7,136.2 1066.8,135.8 1066.9,135.4 1067.0,135.1 1067.1,134.7 1067.2,134.4 1067.3,134.0 1067.4,133.7 1067.5,133.5 1067.6,133.2 1067.8,133.0 1067.9,132.9 1068.0,132.7 1068.1,132.7 1068.2,132.6 1068.3,132.6 1068.4,132.7 1068.5,132.8 1068.6,132.9 1068.7,133.1 1068.8,133.3 1068.9,133.5 1069.0,133.8 1069.1,134.1 1069.2,134.5 1069.3,134.8 1069.4,135.2 1069.5,135.5 1069.6,135.9 1069.7,136.3 1069.9,136.6 1070.0,137.0 1070.1,137.3 1070.2,137.6 1070.3,137.9 1070.4,138.1 1070.5,138.3 1070.6,138.5 1070.7,138.6 1070.8,138.7 1070.9,138.8 1071.0,138.8 1071.1,138.8 1071.2,138.7 1071.3,138.6 1071.4,138.4 1071.5,138.2 1071.6,137.9 1071.7,137.7 1071.9,137.4 1072.0,137.1 1072.1,136.7 1072.2,136.3 1072.3,136.0 1072.4,135.6 1072.5,135.2 1072.6,134.9 1072.7,134.5 1072.8,134.2 1072.9,133.8 1073.0,133.6 1073.1,133.3 1073.2,133.1 1073.3,132.9 1073.4,132.7 1073.5,132.6 1073.6,132.5 1073.7,132.5 1073.8,132.5 1074.0,132.6 1074.1,132.7 1074.2,132.8 1074.3,133.0 1074.4,133.2 1074.5,133.5 1074.6,133.7 1074.7,134.1 1074.8,134.4 1074.9,134.7 1075.0,135.1 1075.1,135.5 1075.2,135.8 1075.3,136.2 1075.4,136.6 1075.5,136.9 1075.6,137.2 1075.7,137.5 1075.8,137.8 1076.0,138.0 1076.1,138.3 1076.2,138.4 1076.3,138.6 1076.4,138.6 1076.5,138.7 1076.6,138.7 1076.7,138.6 1076.8,138.6 1076.9,138.4 1077.0,138.3 1077.1,138.0 1077.2,137.8 1077.3,137.5 1077.4,137.2 1077.5,136.9 1077.6,136.6 1077.7,136.2 1077.8,135.8 1078.0,135.5 1078.1,135.1 1078.2,134.7 1078.3,134.4 1078.4,134.0 1078.5,133.7 1078.6,133.4 1078.7,133.2 1078.8,132.9 1078.9,132.7 1079.0,132.6 1079.1,132.5 1079.2,132.4 1079.3,132.4 1079.4,132.4 1079.5,132.5 1079.6,132.6 1079.7,132.8 1079.8,132.9 1079.9,133.2 1080.1,133.4 1080.2,133.7 1080.3,134.0 1080.4,134.4 1080.5,134.7 1080.6,135.1 1080.7,135.5 1080.8,135.8 1080.9,136.2 1081.0,136.6 1081.1,136.9 1081.2,137.2 1081.3,137.5 1081.4,137.8 1081.5,138.0 1081.6,138.2 1081.7,138.4 1081.8,138.5 1081.9,138.6 1082.1,138.6 1082.2,138.6 1082.3,138.6 1082.4,138.5 1082.5,138.4 1082.6,138.2 1082.7,138.0 1082.8,137.7 1082.9,137.4 1083.0,137.1 1083.1,136.8 1083.2,136.5 1083.3,136.1 1083.4,135.7 1083.5,135.4 1083.6,135.0 1083.7,134.6 1083.8,134.3 1083.9,133.9 1084.0,133.6 1084.2,133.4 1084.3,133.1 1084.4,132.9 1084.5,132.7 1084.6,132.6 1084.7,132.5 1084.8,132.4 1084.9,132.4 1085.0,132.4 1085.1,132.5 1085.2,132.6 1085.3,132.8 1085.4,133.0 1085.5,133.2 1085.6,133.5 1085.7,133.8 1085.8,134.1 1085.9,134.4 1086.0,134.8 1086.2,135.1 1086.3,135.5 1086.4,135.9 1086.5,136.2 1086.6,136.6 1086.7,136.9 1086.8,137.3 1086.9,137.6 1087.0,137.8 1087.1,138.1 1087.2,138.2 1087.3,138.4 1087.4,138.5 1087.5,138.6 1087.6,138.6 1087.7,138.6 1087.8,138.6 1087.9,138.5 1088.0,138.3 1088.2,138.1 1088.3,137.9 1088.4,137.7 1088.5,137.4 1088.6,137.1 1088.7,136.7 1088.8,136.4 1088.9,136.0 1089.0,135.7 1089.1,135.3 1089.2,134.9 1089.3,134.6 1089.4,134.2 1089.5,133.9 1089.6,133.6 1089.7,133.3 1089.8,133.0 1089.9,132.8 1090.0,132.7 1090.1,132.5 1090.3,132.4 1090.4,132.4 1090.5,132.4 1090.6,132.4 1090.7,132.5 1090.8,132.6 1090.9,132.8 1091.0,133.0 1091.1,133.2 1091.2,133.5 1091.3,133.8 1091.4,134.1 1091.5,134.5 1091.6,134.8 1091.7,135.2 1091.8,135.6 1091.9,135.9 1092.0,136.3 1092.1,136.6 1092.3,137.0 1092.4,137.3 1092.5,137.6 1092.6,137.8 1092.7,138.1 1092.8,138.3 1092.9,138.4 1093.0,138.5 1093.1,138.6 1093.2,138.6 1093.3,138.6 1093.4,138.5 1093.5,138.4 1093.6,138.3 1093.7,138.1 1093.8,137.9 1093.9,137.6 1094.0,137.3 1094.1,137.0 1094.2,136.7 1094.4,136.3 1094.5,135.9 1094.6,135.6 1094.7,135.2 1094.8,134.8 1094.9,134.5 1095.0,134.1 1095.1,133.8 1095.2,133.5 1095.3,133.2 1095.4,133.0 1095.5,132.8 1095.6,132.6 1095.7,132.5 1095.8,132.4 1095.9,132.4 1096.0,132.4 1096.1,132.4 1096.2,132.5 1096.4,132.6 1096.5,132.8 1096.6,133.0 1096.7,133.3 1096.8,133.5 1096.9,133.8 1097.0,134.2 1097.1,134.5 1097.2,134.9 1097.3,135.2 1097.4,135.6 1097.5,136.0 1097.6,136.3 1097.7,136.7 1097.8,137.0 1097.9,137.3 1098.0,137.6 1098.1,137.9 1098.2,138.1 1098.3,138.3 1098.5,138.4 1098.6,138.5 1098.7,138.6 1098.8,138.6 1098.9,138.6 1099.0,138.5 1099.1,138.4 1099.2,138.2 1099.3,138.0 1099.4,137.8 1099.5,137.5 1099.6,137.2 1099.7,136.9 1099.8,136.6 1099.9,136.2 1100.0,135.9 1100.1,135.5 1100.2,135.1 1100.3,134.8 1100.5,134.4 1100.6,134.1 1100.7,133.7 1100.8,133.4 1100.9,133.2 1101.0,132.9 1101.1,132.7 1101.2,132.6 1101.3,132.5 1101.4,132.4 1101.5,132.3 1101.6,132.3 1101.7,132.4 1101.8,132.5 1101.9,132.6 1102.0,132.8 1102.1,133.0 1102.2,133.3 1102.3,133.6 1102.5,133.9 1102.6,134.2 1102.7,134.6 1102.8,134.9 1102.9,135.3 1103.0,135.7 1103.1,136.0 1103.2,136.4 1103.3,136.7 1103.4,137.1 1103.5,137.4 1103.6,137.6 1103.7,137.9 1103.8,138.1 1103.9,138.3 1104.0,138.4 1104.1,138.5 1104.2,138.6 1104.3,138.6 1104.4,138.5 1104.6,138.5 1104.7,138.3 1104.8,138.2 1104.9,138.0 1105.0,137.7 1105.1,137.5 1105.2,137.2 1105.3,136.9 1105.4,136.5 1105.5,136.2 1105.6,135.8 1105.7,135.4 1105.8,135.0 1105.9,134.7 1106.0,134.3 1106.1,134.0 1106.2,133.7 1106.3,133.4 1106.4,133.1 1106.6,132.9 1106.7,132.7 1106.8,132.5 1106.9,132.4 1107.0,132.4 1107.1,132.3 1107.2,132.3 1107.3,132.4 1107.4,132.5 1107.5,132.7 1107.6,132.8 1107.7,133.1 1107.8,133.3 1107.9,133.6 1108.0,133.9 1108.1,134.3 1108.2,134.6 1108.3,135.0 1108.4,135.3 1108.5,135.7 1108.7,136.1 1108.8,136.4 1108.9,136.8 1109.0,137.1 1109.1,137.4 1109.2,137.7 1109.3,137.9 1109.4,138.1 1109.5,138.3 1109.6,138.4 1109.7,138.5 1109.8,138.6 1109.9,138.6 1110.0,138.5 1110.1,138.4 1110.2,138.3 1110.3,138.1 1110.4,137.9 1110.5,137.7 1110.7,137.4 1110.8,137.1 1110.9,136.8 1111.0,136.4 1111.1,136.1 1111.2,135.7 1111.3,135.3 1111.4,135.0 1111.5,134.6 1111.6,134.3 1111.7,133.9 1111.8,133.6 1111.9,133.3 1112.0,133.1 1112.1,132.8 1112.2,132.6 1112.3,132.5 1112.4,132.4 1112.5,132.3 1112.7,132.3 1112.8,132.3 1112.9,132.4 1113.0,132.5 1113.1,132.7 1113.2,132.9 1113.3,133.1 1113.4,133.4 1113.5,133.6 1113.6,134.0 1113.7,134.3 1113.8,134.7 1113.9,135.0 1114.0,135.4 1114.1,135.8 1114.2,136.1 1114.3,136.5 1114.4,136.8 1114.5,137.2 1114.6,137.4 1114.8,137.7 1114.9,138.0 1115.0,138.2 1115.1,138.3 1115.2,138.4 1115.3,138.5 1115.4,138.6 1115.5,138.6 1115.6,138.5 1115.7,138.4 1115.8,138.3 1115.9,138.1 1116.0,137.9 1116.1,137.6 1116.2,137.3 1116.3,137.0 1116.4,136.7 1116.5,136.4 1116.6,136.0 1116.8,135.6 1116.9,135.3 1117.0,134.9 1117.1,134.5 1117.2,134.2 1117.3,133.8 1117.4,133.5 1117.5,133.3 1117.6,133.0 1117.7,132.8 1117.8,132.6 1117.9,132.5 1118.0,132.4 1118.1,132.3 1118.2,132.3 1118.3,132.3 1118.4,132.4 1118.5,132.5 1118.6,132.7 1118.7,132.9 1118.9,133.1 1119.0,133.4 1119.1,133.7 1119.2,134.0 1119.3,134.4 1119.4,134.7 1119.5,135.1 1119.6,135.4 1119.7,135.8 1119.8,136.2 1119.9,136.5 1120.0,136.9 1120.1,137.2 1120.2,137.5 1120.3,137.8 1120.4,138.0 1120.5,138.2 1120.6,138.3 1120.7,138.5 1120.9,138.5 1121.0,138.6 1121.1,138.5 1121.2,138.5 1121.3,138.4 1121.4,138.2 1121.5,138.0 1121.6,137.8 1121.7,137.6 1121.8,137.3 1121.9,137.0 1122.0,136.6 1122.1,136.3 1122.2,135.9 1122.3,135.6 1122.4,135.2 1122.5,134.8 1122.6,134.5 1122.7,134.1 1122.8,133.8 1123.0,133.5 1123.1,133.2 1123.2,133.0 1123.3,132.7 1123.4,132.6 1123.5,132.4 1123.6,132.4 1123.7,132.3 1123.8,132.3 1123.9,132.3 1124.0,132.4 1124.1,132.6 1124.2,132.7 1124.3,132.9 1124.4,133.2 1124.5,133.4 1124.6,133.7 1124.7,134.1 1124.8,134.4 1125.0,134.8 1125.1,135.1 1125.2,135.5 1125.3,135.9 1125.4,136.2 1125.5,136.6 1125.6,136.9 1125.7,137.2 1125.8,137.5 1125.9,137.8 1126.0,138.0 1126.1,138.2 1126.2,138.4 1126.3,138.5 1126.4,138.5 1126.5,138.5 1126.6,138.5 1126.7,138.5 1126.8,138.3 1127.0,138.2 1127.1,138.0 1127.2,137.8 1127.3,137.5 1127.4,137.2 1127.5,136.9 1127.6,136.6 1127.7,136.2 1127.8,135.9 1127.9,135.5 1128.0,135.1 1128.1,134.7 1128.2,134.4 1128.3,134.0 1128.4,133.7 1128.5,133.4 1128.6,133.1 1128.7,132.9 1128.8,132.7 1128.9,132.5 1129.1,132.4 1129.2,132.3 1129.3,132.3 1129.4,132.3 1129.5,132.3 1129.6,132.4 1129.7,132.6 1129.8,132.7 1129.9,133.0 1130.0,133.2 1130.1,133.5 1130.2,133.8 1130.3,134.1 1130.4,134.5 1130.5,134.8 1130.6,135.2 1130.7,135.6 1130.8,135.9 1130.9,136.3 1131.1,136.7 1131.2,137.0 1131.3,137.3 1131.4,137.6 1131.5,137.8 1131.6,138.0 1131.7,138.2 1131.8,138.4 1131.9,138.5 1132.0,138.5 1132.1,138.5 1132.2,138.5 1132.3,138.4 1132.4,138.3 1132.5,138.2 1132.6,138.0 1132.7,137.7 1132.8,137.5 1132.9,137.2 1133.0,136.8 1133.2,136.5 1133.3,136.1 1133.4,135.8 1133.5,135.4 1133.6,135.0 1133.7,134.7 1133.8,134.3 1133.9,134.0 1134.0,133.7 1134.1,133.4 1134.2,133.1 1134.3,132.9 1134.4,132.7 1134.5,132.5 1134.6,132.4 1134.7,132.3 1134.8,132.3 1134.9,132.3 1135.0,132.4 1135.2,132.5 1135.3,132.6 1135.4,132.8 1135.5,133.0 1135.6,133.3 1135.7,133.5 1135.8,133.8 1135.9,134.2 1136.0,134.5 1136.1,134.9 1136.2,135.3 1136.3,135.6 1136.4,136.0 1136.5,136.4 1136.6,136.7 1136.7,137.0 1136.8,137.3 1136.9,137.6 1137.0,137.9 1137.2,138.1 1137.3,138.3 1137.4,138.4 1137.5,138.5 1137.6,138.5 1137.7,138.5 1137.8,138.5 1137.9,138.4 1138.0,138.3 1138.1,138.1 1138.2,137.9 1138.3,137.7 1138.4,137.4 1138.5,137.1 1138.6,136.8 1138.7,136.4 1138.8,136.1 1138.9,135.7 1139.0,135.3 1139.1,135.0 1139.3,134.6 1139.4,134.3 1139.5,133.9 1139.6,133.6 1139.7,133.3 1139.8,133.1 1139.9,132.8 1140.0,132.6 1140.1,132.5 1140.2,132.4 1140.3,132.3 1140.4,132.3 1140.5,132.3 1140.6,132.4 1140.7,132.5 1140.8,132.6 1140.9,132.8 1141.0,133.0 1141.1,133.3 1141.3,133.6 1141.4,133.9 1141.5,134.2 1141.6,134.6 1141.7,135.0 1141.8,135.3 1141.9,135.7 1142.0,136.1 1142.1,136.4 1142.2,136.8 1142.3,137.1 1142.4,137.4 1142.5,137.7 1142.6,137.9 1142.7,138.1 1142.8,138.3 1142.9,138.4 1143.0,138.5 1143.1,138.5 1143.2,138.5 1143.4,138.5 1143.5,138.4 1143.6,138.3 1143.7,138.1 1143.8,137.9 1143.9,137.6 1144.0,137.3 1144.1,137.0 1144.2,136.7 1144.3,136.4 1144.4,136.0 1144.5,135.6 1144.6,135.3 1144.7,134.9 1144.8,134.5 1144.9,134.2 1145.0,133.9 1145.1,133.5 1145.2,133.3 1145.4,133.0 1145.5,132.8 1145.6,132.6 1145.7,132.5 1145.8,132.4 1145.9,132.3 1146.0,132.3 1146.1,132.3 1146.2,132.4 1146.3,132.5 1146.4,132.7 1146.5,132.8 1146.6,133.1 1146.7,133.3 1146.8,133.6 1146.9,134.0 1147.0,134.3 1147.1,134.7 1147.2,135.0 1147.3,135.4 1147.5,135.8 1147.6,136.1 1147.7,136.5 1147.8,136.8 1147.9,137.1 1148.0,137.4 1148.1,137.7 1148.2,137.9 1148.3,138.1 1148.4,138.3 1148.5,138.4 1148.6,138.5 1148.7,138.5 1148.8,138.5 1148.9,138.5 1149.0,138.4 1149.1,138.2 1149.2,138.0 1149.3,137.8 1149.5,137.6 1149.6,137.3 1149.7,137.0 1149.8,136.7 1149.9,136.3 1150.0,135.9 1150.1,135.6 1150.2,135.2 1150.3,134.8 1150.4,134.5 1150.5,134.1 1150.6,133.8 1150.7,133.5 1150.8,133.2 1150.9,133.0 1151.0,132.7 1151.1,132.6 1151.2,132.4 1151.3,132.3 1151.5,132.3 1151.6,132.3 1151.7,132.3 1151.8,132.4 1151.9,132.5 1152.0,132.7 1152.1,132.9 1152.2,133.1 1152.3,133.4 1152.4,133.7 1152.5,134.0 1152.6,134.4 1152.7,134.7 1152.8,135.1 1152.9,135.5 1153.0,135.8 1153.1,136.2 1153.2,136.5 1153.3,136.9 1153.4,137.2 1153.6,137.5 1153.7,137.8 1153.8,138.0 1153.9,138.2 1154.0,138.3 1154.1,138.4 1154.2,138.5 1154.3,138.5 1154.4,138.5 1154.5,138.5" stroke="#0000ff" stroke-width="2" fill="none" stroke-linejoin="round"/>
<rect x="733.9" y="95.6" width="420.6" height="420.9" fill="none" stroke="#000" stroke-width="2"/>
<path d="M839.0,95.6 v5.5 M839.0,516.5 v-5.5 M944.2,95.6 v5.5 M944.2,516.5 v-5.5 M1049.3,95.6 v5.5 M1049.3,516.5 v-5.5 M733.9,456.4 h5.5 M733.9,396.2 h5.5 M733.9,336.1 h5.5 M733.9,276.0 h5.5 M733.9,215.9 h5.5 M733.9,155.7 h5.5 " stroke="#000" stroke-width="1.3" fill="none"/>
<text x="725.8" y="526.3" font-family="Liberation Sans, sans-serif" font-size="27" text-anchor="end">0</text>
<text x="725.8" y="466.2" font-family="Liberation Sans, sans-serif" font-size="27" text-anchor="end">0.05</text>
<text x="725.8" y="406.0" font-family="Liberation Sans, sans-serif" font-size="27" text-anchor="end">0.1</text>
<text x="725.8" y="345.9" font-family="Liberation Sans, sans-serif" font-size="27" text-anchor="end">0.15</text>
<text x="725.8" y="285.8" font-family="Liberation Sans, sans-serif" font-size="27" text-anchor="end">0.2</text>
<text x="725.8" y="225.7" font-family="Liberation Sans, sans-serif" font-size="27" text-anchor="end">0.25</text>
<text x="725.8" y="165.5" font-family="Liberation Sans, sans-serif" font-size="27" text-anchor="end">0.3</text>
<text x="725.8" y="105.4" font-family="Liberation Sans, sans-serif" font-size="27" text-anchor="end">0.35</text>
<text x="736.9" y="538.3" font-family="Liberation Sans, sans-serif" font-size="27" text-anchor="middle">0</text>
<text x="842.5" y="538.3" font-family="Liberation Sans, sans-serif" font-size="27" text-anchor="middle">50</text>
<text x="948.7" y="538.3" font-family="Liberation Sans, sans-serif" font-size="27" text-anchor="middle">100</text>
<text x="1054.3" y="538.3" font-family="Liberation Sans, sans-serif" font-size="27" text-anchor="middle">150</text>
<text x="1156.5" y="538.3" font-family="Liberation Sans, sans-serif" font-size="27" text-anchor="middle">200</text>
<text transform="translate(905,578.6) scale(1.04,1)" font-family="Liberation Serif, serif" font-size="47.5" stroke="#000" stroke-width="0.29" ><tspan font-style="italic">t</tspan> (ns)</text>
<text transform="translate(663.3,309.3) rotate(-90) scale(1.18,1)" font-family="Liberation Serif, serif" font-size="44.5" stroke="#000" stroke-width="0.00" font-style="italic">s</text>
<path d="M1034.5,157.3 H1083.5" stroke="#0000cd" stroke-width="4.4"/>
<path d="M1034.5,234.8 H1084" stroke="#006400" stroke-width="4.4"/>
<path d="M1034.8,265.5 H1084" stroke="#cc0000" stroke-width="4.4" stroke-dasharray="4.4 4.75"/>
<text transform="translate(1088,163.4) scale(1.08,1)" font-family="Liberation Serif, serif" font-size="34" stroke="#000" stroke-width="0.20" font-style="italic">s</text>
<text transform="translate(1089,243) scale(1.06,1)" font-family="Liberation Serif, serif" font-size="33" stroke="#000" stroke-width="0.20" font-style="italic">X/R</text>
<text transform="translate(1089,276) scale(1.01,1)" font-family="Liberation Serif, serif" font-size="33" stroke="#000" stroke-width="0.20" font-style="italic">Y/R</text>
<rect x="951.3" y="281.1" width="189.70000000000005" height="185.64999999999998" fill="#fff" stroke="none"/>
<polyline points="951.3,350.0 951.7,348.3 952.1,346.6 952.4,345.0 952.8,343.4 953.2,341.8 953.6,340.2 954.0,338.6 954.3,337.1 954.7,335.5 955.1,334.0 955.5,332.5 955.9,331.1 956.2,329.6 956.6,328.2 957.0,326.8 957.4,325.5 957.7,324.1 958.1,322.8 958.5,321.6 958.9,320.3 959.3,319.1 959.6,317.9 960.0,316.8 960.4,315.7 960.8,314.6 961.2,313.5 961.5,312.5 961.9,311.5 962.3,310.6 962.7,309.7 963.1,308.8 963.4,308.0 963.8,307.2 964.2,306.4 964.6,305.7 965.0,305.0 965.3,304.4 965.7,303.8 966.1,303.2 966.5,302.7 966.9,302.2 967.2,301.8 967.6,301.4 968.0,301.0 968.4,300.7 968.8,300.4 969.1,300.2 969.5,300.0 969.9,299.9 970.3,299.7 970.6,299.7 971.0,299.7 971.4,299.7 971.8,299.7 972.2,299.9 972.5,300.0 972.9,300.2 973.3,300.4 973.7,300.7 974.1,301.0 974.4,301.4 974.8,301.8 975.2,302.2 975.6,302.7 976.0,303.2 976.3,303.8 976.7,304.4 977.1,305.0 977.5,305.7 977.9,306.4 978.2,307.2 978.6,308.0 979.0,308.8 979.4,309.7 979.8,310.6 980.1,311.5 980.5,312.5 980.9,313.5 981.3,314.6 981.7,315.7 982.0,316.8 982.4,317.9 982.8,319.1 983.2,320.3 983.5,321.6 983.9,322.8 984.3,324.1 984.7,325.5 985.1,326.8 985.4,328.2 985.8,329.6 986.2,331.1 986.6,332.5 987.0,334.0 987.3,335.5 987.7,337.1 988.1,338.6 988.5,340.2 988.9,341.8 989.2,343.4 989.6,345.0 990.0,346.6 990.4,348.3 990.8,350.0 991.1,351.7 991.5,353.4 991.9,355.1 992.3,356.8 992.7,358.5 993.0,360.3 993.4,362.0 993.8,363.8 994.2,365.5 994.6,367.3 994.9,369.0 995.3,370.8 995.7,372.6 996.1,374.4 996.4,376.1 996.8,377.9 997.2,379.7 997.6,381.5 998.0,383.2 998.3,385.0 998.7,386.7 999.1,388.5 999.5,390.2 999.9,391.9 1000.2,393.6 1000.6,395.3 1001.0,397.0 1001.4,398.7 1001.8,400.4 1002.1,402.0 1002.5,403.7 1002.9,405.3 1003.3,406.9 1003.7,408.5 1004.0,410.0 1004.4,411.6 1004.8,413.1 1005.2,414.6 1005.6,416.1 1005.9,417.5 1006.3,418.9 1006.7,420.3 1007.1,421.7 1007.5,423.0 1007.8,424.4 1008.2,425.6 1008.6,426.9 1009.0,428.1 1009.3,429.3 1009.7,430.5 1010.1,431.6 1010.5,432.7 1010.9,433.8 1011.2,434.8 1011.6,435.8 1012.0,436.8 1012.4,437.7 1012.8,438.6 1013.1,439.5 1013.5,440.3 1013.9,441.0 1014.3,441.8 1014.7,442.5 1015.0,443.2 1015.4,443.8 1015.8,444.4 1016.2,444.9 1016.6,445.4 1016.9,445.9 1017.3,446.3 1017.7,446.7 1018.1,447.0 1018.5,447.3 1018.8,447.5 1019.2,447.8 1019.6,447.9 1020.0,448.1 1020.4,448.1 1020.7,448.2 1021.1,448.2 1021.5,448.1 1021.9,448.1 1022.2,447.9 1022.6,447.8 1023.0,447.5 1023.4,447.3 1023.8,447.0 1024.1,446.7 1024.5,446.3 1024.9,445.9 1025.3,445.4 1025.7,444.9 1026.0,444.4 1026.4,443.8 1026.8,443.2 1027.2,442.5 1027.6,441.8 1027.9,441.0 1028.3,440.3 1028.7,439.5 1029.1,438.6 1029.5,437.7 1029.8,436.8 1030.2,435.8 1030.6,434.8 1031.0,433.8 1031.4,432.7 1031.7,431.6 1032.1,430.5 1032.5,429.3 1032.9,428.1 1033.3,426.9 1033.6,425.6 1034.0,424.4 1034.4,423.0 1034.8,421.7 1035.1,420.3 1035.5,418.9 1035.9,417.5 1036.3,416.1 1036.7,414.6 1037.0,413.1 1037.4,411.6 1037.8,410.0 1038.2,408.5 1038.6,406.9 1038.9,405.3 1039.3,403.7 1039.7,402.0 1040.1,400.4 1040.5,398.7 1040.8,397.0 1041.2,395.3 1041.6,393.6 1042.0,391.9 1042.4,390.2 1042.7,388.5 1043.1,386.7 1043.5,385.0 1043.9,383.2 1044.3,381.5 1044.6,379.7 1045.0,377.9 1045.4,376.1 1045.8,374.4 1046.2,372.6 1046.5,370.8 1046.9,369.0 1047.3,367.3 1047.7,365.5 1048.0,363.8 1048.4,362.0 1048.8,360.3 1049.2,358.5 1049.6,356.8 1049.9,355.1 1050.3,353.4 1050.7,351.7 1051.1,350.0 1051.5,348.3 1051.8,346.6 1052.2,345.0 1052.6,343.4 1053.0,341.8 1053.4,340.2 1053.7,338.6 1054.1,337.1 1054.5,335.5 1054.9,334.0 1055.3,332.5 1055.6,331.1 1056.0,329.6 1056.4,328.2 1056.8,326.8 1057.2,325.5 1057.5,324.1 1057.9,322.8 1058.3,321.6 1058.7,320.3 1059.0,319.1 1059.4,317.9 1059.8,316.8 1060.2,315.7 1060.6,314.6 1060.9,313.5 1061.3,312.5 1061.7,311.5 1062.1,310.6 1062.5,309.7 1062.8,308.8 1063.2,308.0 1063.6,307.2 1064.0,306.4 1064.4,305.7 1064.7,305.0 1065.1,304.4 1065.5,303.8 1065.9,303.2 1066.3,302.7 1066.6,302.2 1067.0,301.8 1067.4,301.4 1067.8,301.0 1068.2,300.7 1068.5,300.4 1068.9,300.2 1069.3,300.0 1069.7,299.9 1070.1,299.7 1070.4,299.7 1070.8,299.7 1071.2,299.7 1071.6,299.7 1071.9,299.9 1072.3,300.0 1072.7,300.2 1073.1,300.4 1073.5,300.7 1073.8,301.0 1074.2,301.4 1074.6,301.8 1075.0,302.2 1075.4,302.7 1075.7,303.2 1076.1,303.8 1076.5,304.4 1076.9,305.0 1077.3,305.7 1077.6,306.4 1078.0,307.2 1078.4,308.0 1078.8,308.8 1079.2,309.7 1079.5,310.6 1079.9,311.5 1080.3,312.5 1080.7,313.5 1081.1,314.6 1081.4,315.7 1081.8,316.8 1082.2,317.9 1082.6,319.1 1083.0,320.3 1083.3,321.6 1083.7,322.8 1084.1,324.1 1084.5,325.5 1084.8,326.8 1085.2,328.2 1085.6,329.6 1086.0,331.1 1086.4,332.5 1086.7,334.0 1087.1,335.5 1087.5,337.1 1087.9,338.6 1088.3,340.2 1088.6,341.8 1089.0,343.4 1089.4,345.0 1089.8,346.6 1090.2,348.3 1090.5,350.0 1090.9,351.7 1091.3,353.4 1091.7,355.1 1092.1,356.8 1092.4,358.5 1092.8,360.3 1093.2,362.0 1093.6,363.8 1094.0,365.5 1094.3,367.3 1094.7,369.0 1095.1,370.8 1095.5,372.6 1095.9,374.4 1096.2,376.1 1096.6,377.9 1097.0,379.7 1097.4,381.5 1097.7,383.2 1098.1,385.0 1098.5,386.7 1098.9,388.5 1099.3,390.2 1099.6,391.9 1100.0,393.6 1100.4,395.3 1100.8,397.0 1101.2,398.7 1101.5,400.4 1101.9,402.0 1102.3,403.7 1102.7,405.3 1103.1,406.9 1103.4,408.5 1103.8,410.0 1104.2,411.6 1104.6,413.1 1105.0,414.6 1105.3,416.1 1105.7,417.5 1106.1,418.9 1106.5,420.3 1106.9,421.7 1107.2,423.0 1107.6,424.4 1108.0,425.6 1108.4,426.9 1108.8,428.1 1109.1,429.3 1109.5,430.5 1109.9,431.6 1110.3,432.7 1110.6,433.8 1111.0,434.8 1111.4,435.8 1111.8,436.8 1112.2,437.7 1112.5,438.6 1112.9,439.5 1113.3,440.3 1113.7,441.0 1114.1,441.8 1114.4,442.5 1114.8,443.2 1115.2,443.8 1115.6,444.4 1116.0,444.9 1116.3,445.4 1116.7,445.9 1117.1,446.3 1117.5,446.7 1117.9,447.0 1118.2,447.3 1118.6,447.5 1119.0,447.8 1119.4,447.9 1119.8,448.1 1120.1,448.1 1120.5,448.2 1120.9,448.2 1121.3,448.1 1121.7,448.1 1122.0,447.9 1122.4,447.8 1122.8,447.5 1123.2,447.3 1123.5,447.0 1123.9,446.7 1124.3,446.3 1124.7,445.9 1125.1,445.4 1125.4,444.9 1125.8,444.4 1126.2,443.8 1126.6,443.2 1127.0,442.5 1127.3,441.8 1127.7,441.0 1128.1,440.3 1128.5,439.5 1128.9,438.6 1129.2,437.7 1129.6,436.8 1130.0,435.8 1130.4,434.8 1130.8,433.8 1131.1,432.7 1131.5,431.6 1131.9,430.5 1132.3,429.3 1132.7,428.1 1133.0,426.9 1133.4,425.6 1133.8,424.4 1134.2,423.0 1134.6,421.7 1134.9,420.3 1135.3,418.9 1135.7,417.5 1136.1,416.1 1136.4,414.6 1136.8,413.1 1137.2,411.6 1137.6,410.0 1138.0,408.5 1138.3,406.9 1138.7,405.3 1139.1,403.7 1139.5,402.0 1139.9,400.4 1140.2,398.7 1140.6,397.0 1141.0,395.3" stroke="#006400" stroke-width="2.2" fill="none"/>
<polyline points="951.3,444.2 951.7,443.6 952.1,443.0 952.4,442.3 952.8,441.6 953.2,440.9 953.6,440.1 954.0,439.2 954.3,438.4 954.7,437.5 955.1,436.5 955.5,435.6 955.9,434.6 956.2,433.5 956.6,432.5 957.0,431.3 957.4,430.2 957.7,429.0 958.1,427.8 958.5,426.6 958.9,425.3 959.3,424.0 959.6,422.7 960.0,421.4 960.4,420.0 960.8,418.6 961.2,417.1 961.5,415.7 961.9,414.2 962.3,412.7 962.7,411.2 963.1,409.6 963.4,408.1 963.8,406.5 964.2,404.9 964.6,403.3 965.0,401.6 965.3,400.0 965.7,398.3 966.1,396.6 966.5,394.9 966.9,393.2 967.2,391.5 967.6,389.8 968.0,388.0 968.4,386.3 968.8,384.5 969.1,382.8 969.5,381.0 969.9,379.2 970.3,377.5 970.6,375.7 971.0,373.9 971.4,372.2 971.8,370.4 972.2,368.6 972.5,366.8 972.9,365.1 973.3,363.3 973.7,361.6 974.1,359.8 974.4,358.1 974.8,356.4 975.2,354.6 975.6,352.9 976.0,351.2 976.3,349.5 976.7,347.9 977.1,346.2 977.5,344.6 977.9,343.0 978.2,341.4 978.6,339.8 979.0,338.2 979.4,336.7 979.8,335.1 980.1,333.6 980.5,332.2 980.9,330.7 981.3,329.3 981.7,327.9 982.0,326.5 982.4,325.1 982.8,323.8 983.2,322.5 983.5,321.3 983.9,320.0 984.3,318.8 984.7,317.6 985.1,316.5 985.4,315.4 985.8,314.3 986.2,313.3 986.6,312.3 987.0,311.3 987.3,310.4 987.7,309.5 988.1,308.6 988.5,307.8 988.9,307.0 989.2,306.2 989.6,305.5 990.0,304.9 990.4,304.2 990.8,303.6 991.1,303.1 991.5,302.6 991.9,302.1 992.3,301.7 992.7,301.3 993.0,300.9 993.4,300.6 993.8,300.4 994.2,300.1 994.6,300.0 994.9,299.8 995.3,299.7 995.7,299.7 996.1,299.7 996.4,299.7 996.8,299.8 997.2,299.9 997.6,300.0 998.0,300.2 998.3,300.5 998.7,300.8 999.1,301.1 999.5,301.5 999.9,301.9 1000.2,302.3 1000.6,302.8 1001.0,303.4 1001.4,303.9 1001.8,304.5 1002.1,305.2 1002.5,305.9 1002.9,306.6 1003.3,307.4 1003.7,308.2 1004.0,309.0 1004.4,309.9 1004.8,310.8 1005.2,311.8 1005.6,312.8 1005.9,313.8 1006.3,314.9 1006.7,315.9 1007.1,317.1 1007.5,318.2 1007.8,319.4 1008.2,320.6 1008.6,321.9 1009.0,323.2 1009.3,324.5 1009.7,325.8 1010.1,327.2 1010.5,328.6 1010.9,330.0 1011.2,331.4 1011.6,332.9 1012.0,334.4 1012.4,335.9 1012.8,337.4 1013.1,339.0 1013.5,340.6 1013.9,342.2 1014.3,343.8 1014.7,345.4 1015.0,347.1 1015.4,348.7 1015.8,350.4 1016.2,352.1 1016.6,353.8 1016.9,355.5 1017.3,357.2 1017.7,358.9 1018.1,360.7 1018.5,362.4 1018.8,364.2 1019.2,366.0 1019.6,367.7 1020.0,369.5 1020.4,371.3 1020.7,373.0 1021.1,374.8 1021.5,376.6 1021.9,378.4 1022.2,380.1 1022.6,381.9 1023.0,383.7 1023.4,385.4 1023.8,387.2 1024.1,388.9 1024.5,390.6 1024.9,392.4 1025.3,394.1 1025.7,395.8 1026.0,397.5 1026.4,399.1 1026.8,400.8 1027.2,402.4 1027.6,404.1 1027.9,405.7 1028.3,407.3 1028.7,408.9 1029.1,410.4 1029.5,411.9 1029.8,413.5 1030.2,415.0 1030.6,416.4 1031.0,417.9 1031.4,419.3 1031.7,420.7 1032.1,422.0 1032.5,423.4 1032.9,424.7 1033.3,426.0 1033.6,427.2 1034.0,428.4 1034.4,429.6 1034.8,430.8 1035.1,431.9 1035.5,433.0 1035.9,434.1 1036.3,435.1 1036.7,436.1 1037.0,437.0 1037.4,437.9 1037.8,438.8 1038.2,439.7 1038.6,440.5 1038.9,441.2 1039.3,442.0 1039.7,442.7 1040.1,443.3 1040.5,443.9 1040.8,444.5 1041.2,445.0 1041.6,445.5 1042.0,446.0 1042.4,446.4 1042.7,446.7 1043.1,447.1 1043.5,447.4 1043.9,447.6 1044.3,447.8 1044.6,448.0 1045.0,448.1 1045.4,448.2 1045.8,448.2 1046.2,448.2 1046.5,448.1 1046.9,448.0 1047.3,447.9 1047.7,447.7 1048.0,447.5 1048.4,447.2 1048.8,446.9 1049.2,446.6 1049.6,446.2 1049.9,445.7 1050.3,445.3 1050.7,444.8 1051.1,444.2 1051.5,443.6 1051.8,443.0 1052.2,442.3 1052.6,441.6 1053.0,440.9 1053.4,440.1 1053.7,439.2 1054.1,438.4 1054.5,437.5 1054.9,436.5 1055.3,435.6 1055.6,434.6 1056.0,433.5 1056.4,432.5 1056.8,431.3 1057.2,430.2 1057.5,429.0 1057.9,427.8 1058.3,426.6 1058.7,425.3 1059.0,424.0 1059.4,422.7 1059.8,421.4 1060.2,420.0 1060.6,418.6 1060.9,417.1 1061.3,415.7 1061.7,414.2 1062.1,412.7 1062.5,411.2 1062.8,409.6 1063.2,408.1 1063.6,406.5 1064.0,404.9 1064.4,403.3 1064.7,401.6 1065.1,400.0 1065.5,398.3 1065.9,396.6 1066.3,394.9 1066.6,393.2 1067.0,391.5 1067.4,389.8 1067.8,388.0 1068.2,386.3 1068.5,384.5 1068.9,382.8 1069.3,381.0 1069.7,379.2 1070.1,377.5 1070.4,375.7 1070.8,373.9 1071.2,372.2 1071.6,370.4 1071.9,368.6 1072.3,366.8 1072.7,365.1 1073.1,363.3 1073.5,361.6 1073.8,359.8 1074.2,358.1 1074.6,356.4 1075.0,354.6 1075.4,352.9 1075.7,351.2 1076.1,349.5 1076.5,347.9 1076.9,346.2 1077.3,344.6 1077.6,343.0 1078.0,341.4 1078.4,339.8 1078.8,338.2 1079.2,336.7 1079.5,335.1 1079.9,333.6 1080.3,332.2 1080.7,330.7 1081.1,329.3 1081.4,327.9 1081.8,326.5 1082.2,325.1 1082.6,323.8 1083.0,322.5 1083.3,321.3 1083.7,320.0 1084.1,318.8 1084.5,317.6 1084.8,316.5 1085.2,315.4 1085.6,314.3 1086.0,313.3 1086.4,312.3 1086.7,311.3 1087.1,310.4 1087.5,309.5 1087.9,308.6 1088.3,307.8 1088.6,307.0 1089.0,306.2 1089.4,305.5 1089.8,304.9 1090.2,304.2 1090.5,303.6 1090.9,303.1 1091.3,302.6 1091.7,302.1 1092.1,301.7 1092.4,301.3 1092.8,300.9 1093.2,300.6 1093.6,300.4 1094.0,300.1 1094.3,300.0 1094.7,299.8 1095.1,299.7 1095.5,299.7 1095.9,299.7 1096.2,299.7 1096.6,299.8 1097.0,299.9 1097.4,300.0 1097.7,300.2 1098.1,300.5 1098.5,300.8 1098.9,301.1 1099.3,301.5 1099.6,301.9 1100.0,302.3 1100.4,302.8 1100.8,303.4 1101.2,303.9 1101.5,304.5 1101.9,305.2 1102.3,305.9 1102.7,306.6 1103.1,307.4 1103.4,308.2 1103.8,309.0 1104.2,309.9 1104.6,310.8 1105.0,311.8 1105.3,312.8 1105.7,313.8 1106.1,314.9 1106.5,315.9 1106.9,317.1 1107.2,318.2 1107.6,319.4 1108.0,320.6 1108.4,321.9 1108.8,323.2 1109.1,324.5 1109.5,325.8 1109.9,327.2 1110.3,328.6 1110.6,330.0 1111.0,331.4 1111.4,332.9 1111.8,334.4 1112.2,335.9 1112.5,337.4 1112.9,339.0 1113.3,340.6 1113.7,342.2 1114.1,343.8 1114.4,345.4 1114.8,347.1 1115.2,348.7 1115.6,350.4 1116.0,352.1 1116.3,353.8 1116.7,355.5 1117.1,357.2 1117.5,358.9 1117.9,360.7 1118.2,362.4 1118.6,364.2 1119.0,366.0 1119.4,367.7 1119.8,369.5 1120.1,371.3 1120.5,373.0 1120.9,374.8 1121.3,376.6 1121.7,378.4 1122.0,380.1 1122.4,381.9 1122.8,383.7 1123.2,385.4 1123.5,387.2 1123.9,388.9 1124.3,390.6 1124.7,392.4 1125.1,394.1 1125.4,395.8 1125.8,397.5 1126.2,399.1 1126.6,400.8 1127.0,402.4 1127.3,404.1 1127.7,405.7 1128.1,407.3 1128.5,408.9 1128.9,410.4 1129.2,411.9 1129.6,413.5 1130.0,415.0 1130.4,416.4 1130.8,417.9 1131.1,419.3 1131.5,420.7 1131.9,422.0 1132.3,423.4 1132.7,424.7 1133.0,426.0 1133.4,427.2 1133.8,428.4 1134.2,429.6 1134.6,430.8 1134.9,431.9 1135.3,433.0 1135.7,434.1 1136.1,435.1 1136.4,436.1 1136.8,437.0 1137.2,437.9 1137.6,438.8 1138.0,439.7 1138.3,440.5 1138.7,441.2 1139.1,442.0 1139.5,442.7 1139.9,443.3 1140.2,443.9 1140.6,444.5 1141.0,445.0" stroke="#ff0000" stroke-width="2.2" fill="none" stroke-dasharray="10.8 5.4"/>
<rect x="951.3" y="281.1" width="189.70000000000005" height="185.64999999999998" fill="none" stroke="#000" stroke-width="2"/>
<path d="M989.2,281.1 v4 M989.2,466.75 v-4 M1027.2,281.1 v4 M1027.2,466.75 v-4 M1065.1,281.1 v4 M1065.1,466.75 v-4 M1103.1,281.1 v4 M1103.1,466.75 v-4 M951.3,443.5 h4 M1141.0,443.5 h-4 M951.3,420.3 h4 M1141.0,420.3 h-4 M951.3,397.1 h4 M1141.0,397.1 h-4 M951.3,373.9 h4 M1141.0,373.9 h-4 M951.3,350.7 h4 M1141.0,350.7 h-4 M951.3,327.5 h4 M1141.0,327.5 h-4 M951.3,304.3 h4 M1141.0,304.3 h-4 " stroke="#000" stroke-width="1.2" fill="none"/>
<text x="947.6" y="291.3" font-family="Liberation Sans, sans-serif" font-size="17.3" text-anchor="end" letter-spacing="0.6">0.4</text>
<text x="947.6" y="310.5" font-family="Liberation Sans, sans-serif" font-size="17.3" text-anchor="end" letter-spacing="0.6">0.3</text>
<text x="947.6" y="333.7" font-family="Liberation Sans, sans-serif" font-size="17.3" text-anchor="end" letter-spacing="0.6">0.2</text>
<text x="947.6" y="356.9" font-family="Liberation Sans, sans-serif" font-size="17.3" text-anchor="end" letter-spacing="0.6">0.1</text>
<text x="947.6" y="380.1" font-family="Liberation Sans, sans-serif" font-size="17.3" text-anchor="end" letter-spacing="0.6">0</text>
<text x="947.6" y="403.3" font-family="Liberation Sans, sans-serif" font-size="17.3" text-anchor="end" letter-spacing="0.6">-0.1</text>
<text x="947.6" y="426.5" font-family="Liberation Sans, sans-serif" font-size="17.3" text-anchor="end" letter-spacing="0.6">-0.2</text>
<text x="947.6" y="449.7" font-family="Liberation Sans, sans-serif" font-size="17.3" text-anchor="end" letter-spacing="0.6">-0.3</text>
<text x="947.6" y="470.4" font-family="Liberation Sans, sans-serif" font-size="17.3" text-anchor="end" letter-spacing="0.6">-0.4</text>
<text x="934.8" y="482.2" font-family="Liberation Sans, sans-serif" font-size="17.3" letter-spacing="0.6">195</text>
<text x="972.7" y="482.2" font-family="Liberation Sans, sans-serif" font-size="17.3" letter-spacing="0.6">196</text>
<text x="1010.7" y="482.2" font-family="Liberation Sans, sans-serif" font-size="17.3" letter-spacing="0.6">197</text>
<text x="1048.6" y="482.2" font-family="Liberation Sans, sans-serif" font-size="17.3" letter-spacing="0.6">198</text>
<text x="1086.6" y="482.2" font-family="Liberation Sans, sans-serif" font-size="17.3" letter-spacing="0.6">199</text>
<text x="1123.2" y="482.2" font-family="Liberation Sans, sans-serif" font-size="17.3" letter-spacing="0.6">200</text>
<text transform="translate(1010.5,507.2) scale(1.02,1)" font-family="Liberation Serif, serif" font-size="34.5" stroke="#000" stroke-width="0.21" ><tspan font-style="italic">t</tspan> (ns)</text>
<text transform="translate(915.3,441) rotate(-90) scale(0.976,1)" font-family="Liberation Serif, serif" font-size="35" stroke="#000" stroke-width="0.21" font-style="italic">X/R, Y/R</text>
</svg>
</body></html>
